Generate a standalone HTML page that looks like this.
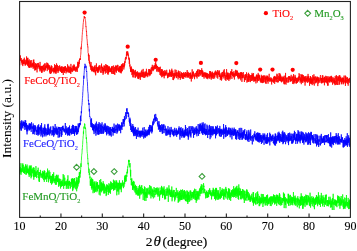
<!DOCTYPE html>
<html><head><meta charset="utf-8"><style>
html,body{margin:0;padding:0;background:#fff;width:357px;height:251px;overflow:hidden}
svg{display:block}
text{font-family:"Liberation Serif","Times New Roman",serif}
</style></head><body>
<svg width="357" height="251" viewBox="0 0 357 251">
<rect width="357" height="251" fill="#fff"/>
<defs><filter id="sf" x="-2%" y="-5%" width="104%" height="110%"><feGaussianBlur stdDeviation="0.25"/></filter></defs>
<g fill="none" stroke-width="0.75" stroke-linejoin="round" filter="url(#sf)">
<polyline stroke="#00ff00" points="19.80,169.2 19.93,173.7 20.05,173.3 20.18,167.5 20.30,168.2 20.43,167.5 20.55,171.3 20.68,169.2 20.80,171.9 20.93,163.2 21.05,174.8 21.18,169.2 21.30,171.8 21.43,169.1 21.55,168.3 21.68,171.2 21.80,172.4 21.93,168.9 22.05,169.1 22.18,172.0 22.30,166.7 22.43,164.6 22.55,171.1 22.68,167.5 22.80,163.3 22.93,167.0 23.05,168.2 23.18,165.8 23.30,164.8 23.43,170.0 23.55,173.0 23.68,169.1 23.80,167.4 23.93,171.3 24.05,172.4 24.18,169.0 24.30,171.9 24.43,173.6 24.55,169.4 24.68,167.3 24.80,171.3 24.93,171.0 25.05,173.9 25.18,165.8 25.30,167.9 25.43,167.4 25.55,164.3 25.68,170.7 25.80,172.1 25.93,167.8 26.05,175.0 26.18,173.1 26.30,172.5 26.43,171.7 26.55,173.7 26.68,165.9 26.80,172.5 26.93,172.5 27.05,164.5 27.18,171.7 27.30,169.7 27.43,173.2 27.55,169.1 27.68,170.5 27.80,171.8 27.93,167.7 28.05,172.7 28.18,170.3 28.30,172.4 28.43,168.9 28.55,174.4 28.68,172.8 28.80,170.2 28.93,172.9 29.05,175.1 29.18,176.9 29.30,165.5 29.43,173.9 29.55,172.5 29.68,170.6 29.80,167.5 29.93,175.2 30.05,166.7 30.18,173.0 30.30,175.5 30.43,165.7 30.55,170.2 30.68,166.8 30.80,172.1 30.93,176.5 31.05,178.3 31.18,165.4 31.30,169.5 31.43,173.9 31.55,177.0 31.68,173.1 31.80,169.2 31.93,172.8 32.05,171.7 32.17,171.2 32.30,169.4 32.42,173.3 32.55,173.0 32.67,171.7 32.80,171.3 32.92,167.8 33.05,170.5 33.17,176.3 33.30,171.6 33.42,167.4 33.55,176.9 33.67,174.2 33.80,179.7 33.92,172.8 34.05,171.0 34.17,167.7 34.30,177.2 34.42,170.0 34.55,170.6 34.67,174.9 34.80,170.1 34.92,172.0 35.05,171.8 35.17,173.7 35.30,176.8 35.42,173.2 35.55,176.3 35.67,171.8 35.80,174.4 35.92,166.1 36.05,168.5 36.17,176.1 36.30,171.5 36.42,175.5 36.55,175.4 36.67,178.1 36.80,176.4 36.92,177.2 37.05,173.4 37.17,171.5 37.30,171.4 37.42,172.3 37.55,170.1 37.67,172.2 37.80,173.8 37.92,175.0 38.05,173.0 38.17,167.7 38.30,174.0 38.42,175.1 38.55,178.1 38.67,176.4 38.80,172.3 38.92,172.1 39.05,181.4 39.17,177.2 39.30,180.9 39.42,182.0 39.55,172.0 39.67,176.1 39.80,176.4 39.92,176.8 40.05,176.8 40.17,175.7 40.30,175.6 40.42,169.9 40.55,174.5 40.67,172.6 40.80,175.5 40.92,173.6 41.05,177.3 41.17,178.0 41.30,176.3 41.42,176.3 41.55,175.6 41.67,173.8 41.80,174.8 41.92,173.7 42.05,176.7 42.17,175.4 42.30,177.4 42.42,170.9 42.55,178.5 42.67,172.9 42.80,173.0 42.92,174.9 43.05,173.7 43.17,176.6 43.30,173.7 43.42,172.0 43.55,172.8 43.67,180.1 43.80,175.9 43.92,171.8 44.05,175.8 44.17,170.5 44.30,181.9 44.42,170.7 44.55,177.5 44.67,177.7 44.80,171.0 44.92,177.0 45.05,179.3 45.17,177.6 45.30,176.9 45.42,179.3 45.55,176.6 45.67,177.2 45.80,175.7 45.92,178.3 46.05,173.0 46.17,178.9 46.30,174.5 46.42,172.5 46.55,177.5 46.67,182.0 46.80,179.6 46.92,174.6 47.05,178.7 47.17,174.8 47.30,176.0 47.42,176.7 47.55,168.6 47.67,177.1 47.80,173.0 47.92,174.2 48.05,171.5 48.17,171.4 48.30,173.4 48.42,179.4 48.55,182.3 48.67,176.6 48.80,180.4 48.92,175.8 49.05,170.3 49.17,177.3 49.30,178.3 49.42,175.4 49.55,177.9 49.67,178.8 49.80,174.0 49.92,171.9 50.05,176.2 50.17,176.3 50.30,175.9 50.42,180.5 50.55,183.1 50.67,175.9 50.80,179.7 50.92,180.6 51.05,179.9 51.17,181.1 51.30,176.3 51.42,180.2 51.55,184.6 51.67,180.5 51.80,175.7 51.92,180.0 52.05,182.2 52.17,179.3 52.30,176.2 52.42,183.4 52.55,174.0 52.67,180.0 52.80,178.3 52.92,174.3 53.05,182.6 53.17,179.7 53.30,174.6 53.42,180.7 53.55,177.2 53.67,172.3 53.80,176.5 53.92,179.8 54.05,181.1 54.17,179.6 54.30,179.2 54.42,180.7 54.55,178.5 54.67,183.2 54.80,179.8 54.92,180.4 55.05,181.3 55.17,175.9 55.30,177.2 55.42,184.8 55.55,180.8 55.67,178.8 55.80,181.0 55.92,178.2 56.05,180.9 56.17,177.7 56.30,181.0 56.42,174.8 56.55,184.7 56.67,178.5 56.80,174.9 56.92,179.6 57.05,179.2 57.17,181.0 57.30,176.7 57.42,182.0 57.55,176.3 57.67,181.9 57.80,179.7 57.92,181.5 58.05,174.8 58.17,177.1 58.30,182.6 58.42,181.0 58.55,186.7 58.67,178.8 58.80,181.9 58.92,178.8 59.05,178.3 59.17,181.4 59.30,181.4 59.42,184.5 59.55,182.1 59.67,179.2 59.80,182.5 59.92,186.2 60.05,181.4 60.17,178.9 60.30,184.0 60.42,181.4 60.55,188.5 60.67,185.2 60.80,185.0 60.92,182.7 61.05,181.9 61.17,183.3 61.30,186.5 61.42,184.0 61.55,181.0 61.67,186.5 61.80,182.9 61.92,182.0 62.05,179.6 62.17,180.4 62.30,180.2 62.42,185.8 62.55,184.3 62.67,181.7 62.80,185.9 62.92,183.9 63.05,183.7 63.17,174.1 63.30,181.7 63.42,184.3 63.55,188.0 63.67,188.8 63.80,187.4 63.92,178.7 64.05,175.2 64.17,184.6 64.30,182.8 64.42,186.0 64.55,182.3 64.67,183.5 64.80,177.7 64.92,184.3 65.05,181.3 65.17,184.0 65.30,184.4 65.42,182.5 65.55,184.0 65.67,182.9 65.80,185.5 65.92,184.7 66.05,181.1 66.17,181.0 66.30,188.9 66.42,182.7 66.55,186.4 66.67,184.4 66.80,181.2 66.92,180.6 67.05,183.6 67.17,184.1 67.30,185.3 67.42,179.0 67.55,181.2 67.67,183.0 67.80,188.7 67.92,175.3 68.05,184.8 68.17,181.5 68.30,184.8 68.42,181.7 68.55,184.7 68.67,188.7 68.80,184.7 68.92,185.0 69.05,184.8 69.17,181.0 69.30,185.4 69.42,182.9 69.55,180.8 69.67,183.5 69.80,182.9 69.92,186.2 70.05,183.5 70.17,181.9 70.30,188.6 70.42,187.0 70.55,188.0 70.67,185.8 70.80,183.3 70.92,182.3 71.05,182.8 71.17,186.9 71.30,184.1 71.42,178.7 71.55,183.6 71.67,179.0 71.80,184.3 71.92,179.7 72.05,179.5 72.17,184.2 72.30,183.5 72.42,178.2 72.55,186.3 72.67,191.1 72.80,178.8 72.92,189.9 73.05,181.5 73.17,182.1 73.30,183.2 73.42,178.9 73.55,188.2 73.67,185.5 73.80,181.3 73.92,182.9 74.05,178.7 74.17,182.6 74.30,186.9 74.42,178.0 74.55,182.3 74.67,184.3 74.80,187.3 74.92,188.3 75.05,182.2 75.17,181.3 75.30,185.3 75.42,182.5 75.55,182.7 75.67,187.3 75.80,189.3 75.92,184.5 76.05,183.0 76.17,185.5 76.30,177.3 76.42,183.5 76.55,180.0 76.67,191.3 76.80,185.7 76.92,183.8 77.05,182.6 77.17,185.5 77.30,188.4 77.42,180.5 77.55,185.0 77.67,185.0 77.80,177.5 77.92,185.3 78.05,186.4 78.17,182.6 78.30,181.4 78.42,183.8 78.55,176.2 78.67,181.0 78.80,183.5 78.92,176.1 79.05,182.4 79.17,177.7 79.30,172.2 79.42,177.5 79.55,174.3 79.67,177.3 79.80,172.4 79.92,177.7 80.05,172.0 80.17,173.9 80.30,170.5 80.42,170.2 80.55,172.6 80.67,169.1 80.80,166.5 80.92,163.4 81.05,167.0 81.17,164.6 81.30,161.1 81.42,160.6 81.55,156.9 81.67,155.4 81.80,154.1 81.92,154.0 82.05,152.1 82.17,149.0 82.30,149.2 82.42,147.5 82.55,144.9 82.67,144.3 82.80,140.7 82.92,139.3 83.05,138.4 83.17,136.1 83.30,135.7 83.42,131.5 83.55,133.8 83.67,129.5 83.80,129.2 83.92,126.6 84.05,128.4 84.17,128.6 84.30,127.7 84.42,127.0 84.55,123.5 84.67,124.4 84.80,124.9 84.92,124.5 85.05,127.7 85.17,127.0 85.30,127.4 85.42,129.0 85.55,128.0 85.67,129.2 85.80,130.4 85.92,133.6 86.05,134.9 86.17,136.7 86.30,139.0 86.42,137.4 86.55,140.1 86.67,142.9 86.80,142.6 86.92,145.5 87.05,149.4 87.17,151.4 87.30,153.2 87.42,153.5 87.55,155.0 87.67,158.5 87.80,158.1 87.92,160.9 88.05,164.3 88.17,162.8 88.30,163.8 88.42,166.4 88.55,169.1 88.67,170.2 88.80,170.7 88.92,172.9 89.05,168.7 89.17,171.5 89.30,175.2 89.42,173.2 89.55,172.9 89.67,174.0 89.80,175.5 89.92,178.3 90.05,176.5 90.17,180.7 90.30,185.7 90.42,180.7 90.55,185.5 90.67,182.9 90.80,178.9 90.92,181.9 91.05,180.0 91.17,185.8 91.30,179.9 91.42,188.1 91.55,186.0 91.67,177.7 91.80,187.0 91.92,189.7 92.05,182.2 92.17,188.2 92.30,179.1 92.42,186.0 92.55,179.8 92.67,187.0 92.80,179.5 92.92,186.8 93.05,193.2 93.17,183.7 93.30,188.5 93.42,186.2 93.55,184.8 93.67,188.0 93.80,191.4 93.92,181.9 94.05,187.9 94.17,187.2 94.30,181.4 94.42,191.6 94.55,192.7 94.67,183.0 94.80,192.1 94.92,186.5 95.05,185.8 95.17,191.4 95.30,187.2 95.42,187.5 95.55,191.5 95.67,190.8 95.80,189.5 95.92,181.8 96.05,181.3 96.17,190.4 96.30,183.5 96.42,187.1 96.55,183.0 96.67,186.0 96.80,182.4 96.92,192.2 97.05,183.3 97.17,186.3 97.30,186.1 97.42,190.9 97.55,182.0 97.67,186.7 97.80,186.2 97.92,188.7 98.05,188.5 98.17,185.4 98.30,187.7 98.42,185.7 98.55,188.6 98.67,186.6 98.80,184.8 98.92,186.9 99.05,188.3 99.17,194.7 99.30,185.4 99.42,188.1 99.55,192.1 99.67,180.1 99.80,181.3 99.92,183.2 100.05,186.8 100.17,195.5 100.30,188.6 100.42,191.3 100.55,186.5 100.67,179.0 100.80,179.5 100.92,190.8 101.05,188.0 101.17,183.0 101.30,191.1 101.42,182.2 101.55,191.2 101.67,192.3 101.80,184.8 101.92,183.7 102.05,190.3 102.17,183.8 102.30,190.4 102.42,183.5 102.55,190.3 102.67,187.9 102.80,186.1 102.92,184.5 103.05,188.4 103.17,181.2 103.30,186.7 103.42,186.3 103.55,189.9 103.67,183.4 103.80,193.5 103.92,186.6 104.05,183.9 104.17,192.4 104.30,193.4 104.42,187.1 104.55,184.7 104.67,187.8 104.80,185.5 104.92,186.8 105.05,193.1 105.17,189.2 105.30,188.3 105.42,189.0 105.55,187.7 105.67,190.7 105.80,190.9 105.92,186.6 106.05,188.3 106.17,196.1 106.30,189.4 106.42,187.3 106.55,194.9 106.67,188.0 106.80,184.2 106.92,190.3 107.05,184.9 107.17,186.3 107.30,189.1 107.42,187.6 107.55,185.4 107.67,186.1 107.80,186.0 107.92,192.0 108.05,185.6 108.17,186.1 108.30,194.9 108.42,186.1 108.55,193.0 108.67,192.4 108.80,187.5 108.92,183.2 109.05,189.5 109.17,190.2 109.30,191.2 109.42,188.1 109.55,191.9 109.67,192.5 109.80,184.2 109.92,192.5 110.05,188.3 110.17,185.7 110.30,186.5 110.42,193.8 110.55,190.7 110.67,181.4 110.80,187.6 110.92,186.8 111.05,186.6 111.17,185.4 111.30,182.2 111.42,189.7 111.55,183.7 111.67,185.5 111.80,184.6 111.92,184.1 112.05,188.8 112.17,187.5 112.30,184.0 112.42,183.0 112.55,184.5 112.67,189.1 112.80,186.3 112.92,186.5 113.05,184.7 113.17,184.8 113.30,186.3 113.42,179.7 113.55,190.7 113.67,183.0 113.80,183.7 113.92,189.7 114.05,186.2 114.17,185.6 114.30,183.6 114.42,180.6 114.55,186.2 114.67,189.5 114.80,182.8 114.92,190.1 115.05,182.2 115.17,183.6 115.30,187.6 115.42,186.1 115.55,188.4 115.67,183.9 115.80,183.0 115.92,180.4 116.05,182.6 116.17,183.2 116.30,182.1 116.42,187.9 116.55,184.8 116.67,180.5 116.80,195.3 116.92,184.4 117.05,183.1 117.17,191.4 117.30,191.2 117.42,183.6 117.55,182.6 117.67,184.2 117.80,191.2 117.92,186.5 118.05,184.9 118.17,187.4 118.30,191.5 118.42,182.9 118.55,186.2 118.67,182.9 118.80,194.6 118.92,193.4 119.05,190.5 119.17,186.9 119.30,189.4 119.42,180.3 119.55,188.0 119.67,182.6 119.80,182.6 119.92,184.5 120.05,185.6 120.17,188.5 120.30,188.8 120.42,187.2 120.55,183.2 120.67,188.3 120.80,185.6 120.92,189.6 121.05,182.8 121.17,184.1 121.30,192.2 121.42,186.8 121.55,184.5 121.67,187.8 121.80,186.4 121.92,186.1 122.05,182.9 122.17,184.6 122.30,184.8 122.42,182.0 122.55,180.4 122.67,184.1 122.80,186.4 122.92,185.3 123.05,184.6 123.17,184.5 123.30,183.6 123.42,185.7 123.55,188.2 123.67,182.5 123.80,182.9 123.92,185.0 124.05,186.7 124.17,182.6 124.30,182.5 124.42,181.6 124.55,177.7 124.67,184.2 124.80,180.1 124.92,175.8 125.05,180.0 125.17,175.4 125.30,177.2 125.42,179.7 125.55,176.9 125.67,182.0 125.80,174.8 125.92,179.1 126.05,179.4 126.17,181.2 126.30,179.2 126.42,176.9 126.55,175.9 126.67,174.8 126.80,176.9 126.92,171.9 127.05,173.7 127.17,171.4 127.30,171.2 127.42,169.2 127.55,173.0 127.67,166.6 127.80,167.4 127.92,166.5 128.05,166.2 128.18,165.0 128.30,164.3 128.43,164.5 128.55,160.1 128.68,162.0 128.80,159.9 128.93,162.0 129.05,159.9 129.18,160.4 129.30,162.1 129.43,164.9 129.55,164.2 129.68,164.5 129.80,167.3 129.93,164.2 130.05,163.1 130.18,167.2 130.30,168.7 130.43,173.0 130.55,176.4 130.68,169.9 130.80,180.0 130.93,179.2 131.05,178.6 131.18,178.6 131.30,185.2 131.43,180.0 131.55,179.4 131.68,182.0 131.80,178.4 131.93,184.5 132.05,183.5 132.18,185.4 132.30,186.0 132.43,182.2 132.55,190.0 132.68,183.1 132.80,189.4 132.93,181.8 133.05,188.4 133.18,184.8 133.30,187.8 133.43,185.7 133.55,180.9 133.68,184.5 133.80,188.6 133.93,190.5 134.05,183.7 134.18,181.7 134.30,185.9 134.43,188.2 134.55,186.9 134.68,186.4 134.80,192.0 134.93,192.4 135.05,191.8 135.18,186.2 135.30,189.7 135.43,188.9 135.55,184.8 135.68,192.7 135.80,190.1 135.93,188.2 136.05,194.7 136.18,192.6 136.30,193.0 136.43,194.2 136.55,192.6 136.68,186.0 136.80,189.0 136.93,193.8 137.05,187.8 137.18,190.6 137.30,191.9 137.43,195.5 137.55,195.1 137.68,193.7 137.80,190.1 137.93,193.9 138.05,192.6 138.18,190.3 138.30,195.5 138.43,192.7 138.55,188.5 138.68,195.4 138.80,190.2 138.93,193.2 139.05,186.0 139.18,191.2 139.30,188.1 139.43,188.0 139.55,184.9 139.68,198.7 139.80,190.9 139.93,192.3 140.05,195.3 140.18,191.1 140.30,193.3 140.43,187.0 140.55,192.3 140.68,190.3 140.80,193.4 140.93,192.4 141.05,187.1 141.18,185.6 141.30,188.4 141.43,194.4 141.55,193.4 141.68,193.4 141.80,185.2 141.93,190.0 142.05,191.0 142.18,190.1 142.30,193.4 142.43,191.6 142.55,188.2 142.68,189.3 142.80,192.8 142.93,192.6 143.05,192.2 143.18,200.1 143.30,191.6 143.43,192.9 143.55,189.2 143.68,191.4 143.80,194.4 143.93,194.6 144.05,192.2 144.18,194.1 144.30,193.0 144.43,186.4 144.55,200.7 144.68,195.7 144.80,192.7 144.93,187.0 145.05,188.6 145.18,197.6 145.30,191.8 145.43,195.9 145.55,193.4 145.68,195.4 145.80,192.4 145.93,201.0 146.05,189.3 146.18,188.2 146.30,193.7 146.43,197.6 146.55,192.6 146.68,196.3 146.80,190.9 146.93,188.7 147.05,197.4 147.18,198.0 147.30,197.8 147.43,191.1 147.55,188.7 147.68,188.6 147.80,191.8 147.93,194.5 148.05,194.3 148.18,187.6 148.30,193.1 148.43,192.5 148.55,192.8 148.68,192.3 148.80,191.7 148.93,194.4 149.05,192.8 149.18,193.1 149.30,190.0 149.43,193.7 149.55,191.9 149.68,185.1 149.80,193.9 149.93,191.3 150.05,195.4 150.18,191.7 150.30,191.9 150.43,192.9 150.55,192.1 150.68,190.6 150.80,186.0 150.93,198.4 151.05,186.7 151.18,190.9 151.30,194.3 151.43,193.3 151.55,193.9 151.68,194.6 151.80,196.3 151.93,193.0 152.05,188.5 152.18,192.7 152.30,190.7 152.43,190.0 152.55,192.8 152.68,196.8 152.80,189.4 152.93,189.4 153.05,194.2 153.18,193.6 153.30,198.4 153.43,195.2 153.55,192.5 153.68,190.6 153.80,192.4 153.93,191.0 154.05,187.0 154.18,191.6 154.30,191.0 154.43,190.8 154.55,190.1 154.68,197.3 154.80,193.9 154.93,194.7 155.05,189.4 155.18,188.0 155.30,190.6 155.43,192.4 155.55,190.4 155.68,190.9 155.80,194.9 155.93,192.6 156.05,188.3 156.18,190.2 156.30,189.4 156.43,192.3 156.55,187.7 156.68,191.1 156.80,194.1 156.93,191.9 157.05,188.7 157.18,189.7 157.30,192.2 157.43,193.5 157.55,194.7 157.68,191.4 157.80,187.4 157.93,196.7 158.05,192.9 158.18,193.3 158.30,193.0 158.43,188.4 158.55,190.9 158.68,192.9 158.80,195.5 158.93,192.3 159.05,191.2 159.18,193.3 159.30,196.5 159.43,194.5 159.55,200.6 159.68,197.0 159.80,196.8 159.93,195.4 160.05,187.5 160.18,195.1 160.30,194.3 160.43,190.5 160.55,194.3 160.68,193.7 160.80,190.7 160.93,191.9 161.05,191.5 161.18,193.2 161.30,190.9 161.43,194.3 161.55,185.9 161.68,191.5 161.80,186.7 161.93,190.8 162.05,194.3 162.18,192.6 162.30,192.2 162.43,192.8 162.55,197.9 162.68,188.8 162.80,195.6 162.93,187.5 163.05,191.1 163.18,193.3 163.30,189.8 163.43,193.4 163.55,195.2 163.68,188.7 163.80,192.5 163.93,191.5 164.05,186.3 164.18,192.2 164.30,190.2 164.43,197.5 164.55,190.0 164.68,198.7 164.80,191.2 164.93,199.6 165.05,194.9 165.18,194.6 165.30,195.8 165.43,196.2 165.55,197.9 165.68,199.0 165.80,192.0 165.93,188.9 166.05,191.9 166.18,195.8 166.30,194.5 166.43,193.7 166.55,192.1 166.68,191.1 166.80,192.4 166.93,194.7 167.05,187.4 167.18,195.9 167.30,188.5 167.43,192.9 167.55,191.3 167.68,192.2 167.80,190.0 167.93,189.6 168.05,192.8 168.18,189.9 168.30,201.9 168.43,192.2 168.55,191.4 168.68,191.8 168.80,190.0 168.93,185.3 169.05,192.8 169.18,194.8 169.30,188.6 169.43,193.8 169.55,189.7 169.68,193.7 169.80,195.1 169.93,195.5 170.05,195.4 170.18,191.5 170.30,196.9 170.43,192.4 170.55,195.2 170.68,196.4 170.80,193.0 170.93,189.7 171.05,196.1 171.18,190.3 171.30,191.1 171.43,190.4 171.55,197.0 171.68,193.6 171.80,186.5 171.93,196.7 172.05,201.3 172.18,200.4 172.30,192.4 172.43,194.6 172.55,196.1 172.68,197.4 172.80,194.5 172.93,190.7 173.05,197.0 173.18,196.5 173.30,189.9 173.43,193.2 173.55,195.4 173.68,194.5 173.80,196.3 173.93,197.3 174.05,196.4 174.18,194.2 174.30,190.0 174.43,196.7 174.55,199.4 174.68,201.4 174.80,194.6 174.93,194.6 175.05,199.7 175.18,199.7 175.30,196.0 175.43,197.3 175.55,192.3 175.68,196.9 175.80,192.1 175.93,194.5 176.05,194.6 176.18,193.4 176.30,187.9 176.43,192.2 176.55,196.2 176.68,194.9 176.80,193.8 176.93,196.6 177.05,197.5 177.18,198.1 177.30,192.5 177.43,195.3 177.55,194.2 177.68,192.3 177.80,190.3 177.93,195.0 178.05,192.4 178.18,202.8 178.30,195.1 178.43,194.7 178.55,194.2 178.68,201.9 178.80,192.4 178.93,195.1 179.05,193.0 179.18,195.2 179.30,195.6 179.43,199.4 179.55,190.9 179.68,195.7 179.80,201.3 179.93,194.1 180.05,195.2 180.18,192.9 180.30,195.5 180.43,199.9 180.55,194.4 180.68,189.7 180.80,196.9 180.93,196.3 181.05,199.5 181.18,199.2 181.30,195.2 181.43,197.5 181.55,190.1 181.68,200.0 181.80,196.9 181.93,199.9 182.05,199.9 182.18,195.3 182.30,195.8 182.43,193.4 182.55,189.4 182.68,196.0 182.80,197.0 182.93,192.8 183.05,198.9 183.18,196.9 183.30,198.1 183.43,194.0 183.55,190.6 183.68,199.3 183.80,198.7 183.93,196.3 184.05,195.3 184.18,195.8 184.30,196.3 184.43,195.1 184.55,190.0 184.68,199.5 184.80,191.8 184.93,195.8 185.05,195.9 185.18,197.8 185.30,191.4 185.43,201.0 185.55,199.1 185.68,199.4 185.80,201.1 185.93,194.1 186.05,197.9 186.18,201.2 186.30,200.7 186.43,194.9 186.55,196.4 186.68,197.6 186.80,190.5 186.93,194.3 187.05,194.4 187.18,201.9 187.30,194.3 187.43,201.8 187.55,196.5 187.68,190.8 187.80,204.0 187.93,193.1 188.05,198.5 188.18,202.2 188.30,194.5 188.43,192.2 188.55,199.8 188.68,196.5 188.80,192.1 188.93,192.6 189.05,194.9 189.18,199.5 189.30,195.2 189.43,198.4 189.55,201.7 189.68,200.4 189.80,201.0 189.93,200.2 190.05,190.6 190.18,200.2 190.30,197.1 190.43,195.5 190.55,192.2 190.68,190.5 190.80,192.1 190.93,195.8 191.05,191.8 191.18,193.0 191.30,193.7 191.43,198.0 191.55,194.7 191.68,195.2 191.80,200.2 191.93,194.6 192.05,197.7 192.18,192.0 192.30,196.7 192.43,196.0 192.55,196.1 192.68,193.9 192.80,192.0 192.93,194.5 193.05,193.9 193.18,198.9 193.30,198.5 193.43,191.3 193.55,197.5 193.68,193.7 193.80,196.9 193.93,193.6 194.05,190.2 194.18,198.7 194.30,196.7 194.43,191.0 194.55,188.7 194.68,193.3 194.80,191.1 194.93,193.8 195.05,197.2 195.18,200.0 195.30,193.8 195.43,199.7 195.55,198.9 195.68,193.5 195.80,189.2 195.93,197.8 196.05,196.9 196.18,202.8 196.30,199.7 196.43,197.4 196.55,200.5 196.68,191.1 196.80,195.3 196.93,193.7 197.05,200.5 197.18,196.5 197.30,199.1 197.43,191.4 197.55,197.0 197.68,192.7 197.80,195.1 197.93,196.3 198.05,194.8 198.18,190.8 198.30,198.6 198.43,195.2 198.55,193.7 198.68,196.0 198.80,191.7 198.93,199.7 199.05,194.0 199.18,194.3 199.30,194.1 199.43,189.7 199.55,188.7 199.68,193.0 199.80,193.2 199.93,196.2 200.05,193.1 200.18,187.9 200.30,192.8 200.43,193.5 200.55,193.8 200.68,191.4 200.80,186.3 200.93,193.4 201.05,187.3 201.18,191.1 201.30,184.3 201.43,191.2 201.55,186.3 201.68,191.8 201.80,193.6 201.93,191.7 202.05,184.6 202.18,185.2 202.30,185.4 202.43,189.9 202.55,188.9 202.68,188.4 202.80,188.9 202.93,189.8 203.05,190.1 203.18,193.3 203.30,188.3 203.43,189.2 203.55,183.2 203.68,185.0 203.80,187.1 203.93,185.8 204.05,190.4 204.18,193.1 204.30,188.8 204.43,188.9 204.55,189.1 204.68,191.3 204.80,189.4 204.93,192.8 205.05,192.6 205.18,193.0 205.30,194.6 205.43,192.4 205.55,192.9 205.68,198.4 205.80,192.7 205.93,195.6 206.05,193.3 206.18,191.7 206.30,191.8 206.43,190.7 206.55,193.6 206.68,191.6 206.80,192.3 206.93,197.9 207.05,193.4 207.18,197.7 207.30,194.8 207.43,196.9 207.55,191.9 207.68,194.5 207.80,196.9 207.93,197.5 208.05,194.9 208.18,197.0 208.30,190.2 208.43,191.2 208.55,195.6 208.68,196.9 208.80,192.7 208.93,193.5 209.05,192.9 209.18,193.5 209.30,190.0 209.43,189.3 209.55,193.8 209.68,188.2 209.80,190.8 209.93,191.9 210.05,190.5 210.18,194.9 210.30,192.6 210.43,193.8 210.55,190.6 210.68,191.5 210.80,195.8 210.93,195.3 211.05,192.5 211.18,195.3 211.30,194.7 211.43,194.6 211.55,199.4 211.68,192.6 211.80,195.4 211.93,195.4 212.05,193.2 212.18,190.0 212.30,196.3 212.43,194.9 212.55,194.1 212.68,194.0 212.80,194.0 212.93,190.9 213.05,194.9 213.18,187.8 213.30,193.8 213.43,188.8 213.55,192.7 213.68,196.3 213.80,193.0 213.93,192.2 214.05,195.6 214.18,192.9 214.30,192.5 214.43,192.5 214.55,199.0 214.68,196.1 214.80,195.5 214.93,189.8 215.05,195.9 215.18,189.4 215.30,195.4 215.43,190.0 215.55,200.4 215.68,188.1 215.80,198.0 215.93,196.5 216.05,187.8 216.18,193.0 216.30,198.7 216.43,197.7 216.55,188.2 216.68,192.0 216.80,189.8 216.93,190.3 217.05,191.6 217.18,200.0 217.30,194.2 217.43,193.0 217.55,192.6 217.68,196.0 217.80,196.1 217.93,190.7 218.05,198.8 218.18,190.1 218.30,192.8 218.43,195.3 218.55,199.6 218.68,192.6 218.80,194.7 218.93,198.2 219.05,195.9 219.18,197.6 219.30,197.3 219.43,194.7 219.55,195.9 219.68,196.9 219.80,193.7 219.93,199.2 220.05,187.0 220.18,190.6 220.30,198.7 220.43,195.2 220.55,191.6 220.68,195.1 220.80,197.5 220.93,191.9 221.05,196.4 221.18,193.4 221.30,193.4 221.43,193.5 221.55,197.6 221.68,190.0 221.80,192.5 221.93,196.0 222.05,189.6 222.18,188.4 222.30,195.7 222.43,193.8 222.55,193.3 222.68,194.3 222.80,190.5 222.93,190.4 223.05,192.3 223.18,188.9 223.30,192.4 223.43,199.0 223.55,193.8 223.68,195.8 223.80,192.1 223.93,199.9 224.05,194.3 224.18,189.5 224.30,196.4 224.43,192.5 224.55,195.8 224.68,194.3 224.80,194.7 224.93,194.2 225.05,190.7 225.18,188.7 225.30,197.1 225.43,193.3 225.55,194.8 225.68,192.2 225.80,186.9 225.93,189.4 226.05,198.5 226.18,191.1 226.30,192.5 226.43,188.8 226.55,192.0 226.68,192.5 226.80,193.0 226.93,193.5 227.05,191.6 227.18,191.8 227.30,193.7 227.43,194.9 227.55,193.3 227.68,199.7 227.80,194.5 227.93,194.3 228.05,191.5 228.18,197.3 228.30,190.3 228.43,188.3 228.55,190.4 228.68,195.9 228.80,189.9 228.93,198.2 229.05,193.7 229.18,188.6 229.30,193.0 229.43,199.8 229.55,190.8 229.68,189.3 229.80,195.5 229.93,198.2 230.05,197.2 230.18,192.6 230.30,194.3 230.43,194.8 230.55,197.6 230.68,200.9 230.80,193.2 230.93,198.0 231.05,192.4 231.18,195.5 231.30,190.3 231.43,190.9 231.55,194.9 231.68,190.4 231.80,196.4 231.93,191.5 232.05,193.6 232.18,193.1 232.30,192.2 232.43,193.7 232.55,196.9 232.68,189.2 232.80,194.2 232.93,192.6 233.05,190.1 233.18,194.1 233.30,190.1 233.43,192.8 233.55,197.3 233.68,186.2 233.80,193.9 233.93,194.5 234.05,189.7 234.18,194.8 234.30,194.1 234.43,191.7 234.55,197.0 234.68,188.4 234.80,195.0 234.93,192.0 235.05,189.2 235.18,192.2 235.30,191.6 235.43,195.5 235.55,187.6 235.68,192.0 235.80,191.1 235.93,198.0 236.05,188.8 236.18,196.2 236.30,186.6 236.43,193.7 236.55,192.1 236.68,193.8 236.80,190.1 236.93,185.8 237.05,187.2 237.18,196.8 237.30,193.1 237.43,189.4 237.55,195.4 237.68,189.7 237.80,189.7 237.93,188.1 238.05,196.2 238.18,199.0 238.30,189.1 238.43,193.4 238.55,195.8 238.68,199.7 238.80,184.4 238.93,193.1 239.05,194.9 239.18,187.7 239.30,194.2 239.43,193.6 239.55,195.4 239.68,191.0 239.80,194.5 239.93,191.1 240.05,195.3 240.18,193.8 240.30,192.0 240.43,188.6 240.55,199.1 240.68,197.3 240.80,196.6 240.93,191.4 241.05,192.5 241.18,199.4 241.30,196.4 241.43,191.0 241.55,194.1 241.68,194.5 241.80,193.4 241.93,190.9 242.05,198.5 242.18,196.2 242.30,193.6 242.43,189.0 242.55,192.4 242.68,194.4 242.80,197.4 242.93,193.3 243.05,198.3 243.18,195.1 243.30,192.1 243.43,190.7 243.55,189.7 243.68,194.3 243.80,196.0 243.93,199.6 244.05,194.9 244.18,191.0 244.30,203.0 244.43,196.1 244.55,194.2 244.68,194.3 244.80,190.6 244.93,197.4 245.05,196.6 245.18,200.7 245.30,199.1 245.43,198.4 245.55,199.8 245.68,194.6 245.80,194.1 245.93,195.5 246.05,191.4 246.18,195.2 246.30,194.6 246.43,198.1 246.55,195.8 246.68,189.4 246.80,196.1 246.93,200.8 247.05,189.8 247.18,193.5 247.30,196.2 247.43,191.7 247.55,194.4 247.68,196.5 247.80,191.8 247.93,197.4 248.05,197.8 248.18,192.1 248.30,196.6 248.43,200.2 248.55,196.0 248.68,198.1 248.80,198.9 248.93,195.9 249.05,200.1 249.18,198.1 249.30,193.5 249.43,198.7 249.55,199.9 249.68,199.8 249.80,194.9 249.93,198.7 250.05,201.8 250.18,198.0 250.30,201.3 250.43,201.7 250.55,197.2 250.68,199.6 250.80,196.5 250.93,201.1 251.05,197.2 251.18,195.7 251.30,197.5 251.43,197.4 251.55,199.0 251.68,199.3 251.80,193.8 251.93,195.6 252.05,199.1 252.18,199.6 252.30,198.3 252.43,201.8 252.55,197.8 252.68,200.6 252.80,202.7 252.93,199.5 253.05,192.3 253.18,198.7 253.30,198.5 253.43,205.7 253.55,192.2 253.68,203.8 253.80,198.0 253.93,201.8 254.05,197.7 254.18,199.3 254.30,202.6 254.43,199.1 254.55,202.4 254.68,198.6 254.80,197.6 254.93,198.2 255.05,197.3 255.18,198.6 255.30,203.7 255.43,195.1 255.55,193.4 255.68,199.0 255.80,204.8 255.93,202.7 256.05,203.6 256.18,203.4 256.30,196.7 256.43,199.6 256.55,197.1 256.68,201.2 256.80,193.9 256.93,192.2 257.05,194.8 257.18,200.0 257.30,203.2 257.43,204.1 257.55,194.1 257.68,191.4 257.80,199.8 257.93,202.9 258.05,193.8 258.18,197.6 258.30,197.8 258.43,199.5 258.55,198.8 258.68,201.2 258.80,203.0 258.93,199.7 259.05,202.0 259.18,206.2 259.30,196.0 259.43,195.9 259.55,201.2 259.68,205.8 259.80,200.1 259.93,203.3 260.05,198.5 260.18,202.7 260.30,197.5 260.43,201.9 260.55,201.0 260.68,201.0 260.80,204.3 260.93,203.3 261.05,197.6 261.18,202.7 261.30,193.9 261.43,203.1 261.55,201.6 261.68,201.5 261.80,200.0 261.93,202.6 262.05,198.3 262.18,202.1 262.30,198.9 262.43,198.4 262.55,200.3 262.68,199.7 262.80,194.0 262.93,207.0 263.05,200.4 263.18,194.2 263.30,203.6 263.43,199.9 263.55,200.7 263.68,202.4 263.80,197.0 263.93,199.7 264.05,200.8 264.18,203.4 264.30,197.5 264.43,199.1 264.55,201.4 264.68,199.0 264.80,199.2 264.93,201.0 265.05,196.7 265.18,205.5 265.30,197.0 265.43,200.2 265.55,199.0 265.68,197.7 265.80,202.0 265.93,203.6 266.05,205.1 266.18,202.1 266.30,198.6 266.43,203.1 266.55,195.3 266.68,200.4 266.80,202.0 266.93,202.1 267.05,196.3 267.18,195.1 267.30,205.9 267.43,198.5 267.55,194.6 267.68,196.0 267.80,200.3 267.93,204.2 268.05,200.2 268.18,204.3 268.30,201.0 268.43,201.8 268.55,203.6 268.68,199.0 268.80,201.2 268.93,198.9 269.05,198.1 269.18,202.5 269.30,197.5 269.43,200.5 269.55,197.6 269.68,200.0 269.80,198.5 269.93,204.0 270.05,200.5 270.18,200.5 270.30,205.9 270.43,196.4 270.55,200.2 270.68,201.7 270.80,202.4 270.93,201.1 271.05,197.2 271.18,206.1 271.30,201.2 271.43,199.2 271.55,196.3 271.68,201.5 271.80,198.4 271.93,198.6 272.05,200.8 272.18,200.8 272.30,197.3 272.43,204.3 272.55,196.7 272.68,196.3 272.80,201.1 272.93,200.5 273.05,200.3 273.18,198.6 273.30,200.2 273.43,198.1 273.55,194.4 273.68,202.5 273.80,196.6 273.93,199.2 274.05,202.5 274.18,200.1 274.30,195.2 274.43,197.5 274.55,200.3 274.68,204.6 274.80,199.1 274.93,195.1 275.05,203.9 275.18,196.8 275.30,199.3 275.43,203.0 275.55,197.7 275.68,198.4 275.80,201.6 275.93,199.3 276.05,200.9 276.18,196.7 276.30,199.5 276.43,196.2 276.55,194.6 276.68,205.9 276.80,201.5 276.93,203.0 277.05,196.6 277.18,199.8 277.30,199.2 277.43,195.1 277.55,201.8 277.68,197.5 277.80,199.2 277.93,194.8 278.05,203.3 278.18,202.5 278.30,201.2 278.43,196.8 278.55,198.1 278.68,204.1 278.80,199.0 278.93,200.8 279.05,200.4 279.18,196.1 279.30,205.1 279.43,193.1 279.55,200.6 279.68,199.6 279.80,194.4 279.93,201.0 280.05,201.6 280.18,200.1 280.30,197.1 280.43,201.4 280.55,203.7 280.68,200.6 280.80,205.7 280.93,202.8 281.05,202.5 281.18,204.6 281.30,197.6 281.43,198.1 281.55,201.6 281.68,201.6 281.80,205.0 281.93,203.8 282.05,200.5 282.18,200.6 282.30,198.9 282.43,198.6 282.55,198.3 282.68,202.9 282.80,198.3 282.93,198.7 283.05,200.4 283.18,198.1 283.30,199.1 283.43,192.5 283.55,201.2 283.68,198.9 283.80,200.6 283.93,201.2 284.05,193.6 284.18,208.1 284.30,200.5 284.43,200.6 284.55,193.9 284.68,202.2 284.80,201.5 284.93,198.9 285.05,201.0 285.18,204.5 285.30,199.1 285.43,197.2 285.55,204.8 285.68,201.2 285.80,199.7 285.93,208.2 286.05,200.9 286.18,199.8 286.30,201.3 286.43,199.0 286.55,201.1 286.68,200.9 286.80,198.2 286.93,199.5 287.05,201.5 287.18,201.7 287.30,202.4 287.43,203.1 287.55,201.3 287.68,202.2 287.80,199.1 287.93,199.6 288.05,204.0 288.18,193.7 288.30,201.7 288.43,194.1 288.55,205.5 288.68,194.4 288.80,201.6 288.93,205.9 289.05,205.4 289.18,197.3 289.30,195.9 289.43,195.5 289.55,202.8 289.68,199.0 289.80,200.4 289.93,201.2 290.05,201.7 290.18,202.2 290.30,200.8 290.43,194.9 290.55,205.3 290.68,204.5 290.80,198.3 290.93,199.7 291.05,198.6 291.18,199.1 291.30,200.3 291.43,199.4 291.55,196.6 291.68,203.3 291.80,198.4 291.93,205.0 292.05,199.9 292.18,198.0 292.30,201.9 292.43,203.4 292.55,197.3 292.68,199.5 292.80,205.3 292.93,197.1 293.05,197.6 293.18,201.0 293.30,196.3 293.43,192.1 293.55,194.8 293.68,201.8 293.80,202.7 293.93,202.5 294.05,201.9 294.18,196.3 294.30,202.8 294.43,204.5 294.55,198.2 294.68,203.8 294.80,199.3 294.93,201.2 295.05,201.8 295.18,195.6 295.30,205.6 295.43,197.7 295.55,200.3 295.68,199.0 295.80,202.2 295.93,202.1 296.05,200.7 296.18,205.5 296.30,201.6 296.43,199.3 296.55,199.7 296.68,199.7 296.80,197.8 296.93,197.8 297.05,202.8 297.18,204.3 297.30,207.2 297.43,204.7 297.55,198.4 297.68,201.7 297.80,196.2 297.93,203.3 298.05,202.0 298.18,198.7 298.30,200.5 298.43,200.0 298.55,198.7 298.68,205.3 298.80,203.7 298.93,204.5 299.05,201.4 299.18,199.7 299.30,208.4 299.43,199.7 299.55,202.3 299.68,200.5 299.80,202.9 299.93,200.8 300.05,203.0 300.18,196.6 300.30,200.6 300.43,205.6 300.55,197.4 300.68,198.7 300.80,205.6 300.93,202.3 301.05,204.6 301.18,193.3 301.30,201.4 301.43,196.6 301.55,196.2 301.68,202.3 301.80,205.0 301.93,195.8 302.05,197.2 302.18,198.9 302.30,200.5 302.43,196.4 302.55,208.6 302.68,202.9 302.80,199.7 302.93,199.1 303.05,208.8 303.18,208.5 303.30,199.2 303.43,202.1 303.55,205.2 303.68,196.9 303.80,198.9 303.93,205.5 304.05,198.5 304.18,199.4 304.30,196.3 304.43,198.3 304.55,203.2 304.68,198.1 304.80,196.4 304.93,198.7 305.05,206.9 305.18,201.4 305.30,198.9 305.43,201.4 305.55,202.3 305.68,201.2 305.80,194.6 305.93,201.8 306.05,200.1 306.18,203.7 306.30,196.2 306.43,204.4 306.55,199.1 306.68,195.0 306.80,205.3 306.93,199.0 307.05,202.1 307.18,200.2 307.30,204.5 307.43,204.6 307.55,204.6 307.68,203.2 307.80,195.2 307.93,195.0 308.05,201.4 308.18,197.5 308.30,202.4 308.43,201.3 308.55,195.9 308.68,197.2 308.80,196.9 308.93,197.7 309.05,200.0 309.18,203.1 309.30,205.3 309.43,197.4 309.55,198.8 309.68,206.1 309.80,203.8 309.93,201.5 310.05,192.7 310.18,197.3 310.30,201.3 310.43,198.7 310.55,207.6 310.68,201.0 310.80,201.7 310.93,197.0 311.05,197.1 311.18,198.4 311.30,198.6 311.43,199.9 311.55,202.0 311.68,201.5 311.80,204.2 311.93,196.1 312.05,201.4 312.18,201.5 312.30,206.2 312.43,200.0 312.55,201.8 312.68,197.9 312.80,202.2 312.93,202.1 313.05,198.6 313.18,199.2 313.30,200.6 313.43,202.7 313.55,196.8 313.68,203.7 313.80,199.6 313.93,207.2 314.05,205.7 314.18,199.3 314.30,198.6 314.43,209.2 314.55,202.9 314.68,202.7 314.80,199.3 314.93,200.3 315.05,203.5 315.18,202.8 315.30,197.9 315.43,205.0 315.55,201.8 315.68,197.4 315.80,204.1 315.93,200.1 316.05,203.4 316.18,198.8 316.30,201.9 316.43,195.1 316.55,202.0 316.68,195.5 316.80,201.3 316.93,200.5 317.05,203.2 317.18,202.4 317.30,204.8 317.43,197.0 317.55,206.1 317.68,206.2 317.80,196.6 317.93,198.0 318.05,198.7 318.18,200.6 318.30,201.4 318.43,192.3 318.55,202.8 318.68,199.9 318.80,197.3 318.93,204.0 319.05,199.6 319.18,204.7 319.30,202.6 319.43,199.7 319.55,204.8 319.68,203.6 319.80,199.1 319.93,195.3 320.05,199.0 320.18,203.0 320.30,200.1 320.43,206.9 320.55,201.8 320.68,201.6 320.80,202.3 320.93,197.9 321.05,200.5 321.18,198.7 321.30,192.9 321.43,194.9 321.55,203.5 321.68,199.5 321.80,200.6 321.93,196.0 322.05,199.0 322.18,203.7 322.30,201.4 322.43,199.3 322.55,206.3 322.68,200.9 322.80,199.9 322.93,205.0 323.05,195.2 323.18,203.0 323.30,197.3 323.43,198.5 323.55,198.8 323.68,201.6 323.80,201.6 323.93,202.2 324.05,201.9 324.18,206.0 324.30,207.0 324.43,203.7 324.55,203.9 324.68,200.0 324.80,197.5 324.93,203.3 325.05,201.4 325.18,204.3 325.30,195.1 325.43,197.0 325.55,201.5 325.68,204.8 325.80,196.6 325.93,199.5 326.05,194.5 326.18,196.5 326.30,194.8 326.43,201.8 326.55,202.4 326.68,200.4 326.80,205.8 326.93,206.2 327.05,201.5 327.18,200.7 327.30,200.6 327.43,200.0 327.55,206.0 327.68,202.4 327.80,200.4 327.93,200.8 328.05,203.5 328.18,200.2 328.30,202.7 328.43,201.5 328.55,206.3 328.68,205.6 328.80,196.8 328.93,201.1 329.05,204.1 329.18,200.1 329.30,204.5 329.43,202.9 329.55,203.8 329.68,201.5 329.80,202.8 329.93,203.6 330.05,196.7 330.18,198.6 330.30,198.3 330.43,207.6 330.55,202.9 330.68,203.1 330.80,202.4 330.93,200.1 331.05,199.3 331.18,204.8 331.30,200.6 331.43,207.3 331.55,202.6 331.68,202.2 331.80,201.2 331.93,201.7 332.05,202.1 332.18,207.2 332.30,210.0 332.43,198.0 332.55,202.9 332.68,204.4 332.80,198.9 332.93,199.9 333.05,200.5 333.18,193.8 333.30,204.3 333.43,201.9 333.55,201.8 333.68,202.4 333.80,203.0 333.93,210.0 334.05,202.8 334.18,205.0 334.30,200.4 334.43,203.4 334.55,201.1 334.68,201.7 334.80,199.1 334.93,199.4 335.05,203.8 335.18,204.8 335.30,203.8 335.43,200.0 335.55,203.3 335.68,205.5 335.80,202.1 335.93,203.2 336.05,206.2 336.18,200.8 336.30,205.5 336.43,200.8 336.55,204.1 336.68,200.9 336.80,203.3 336.93,207.2 337.05,200.1 337.18,200.2 337.30,201.2 337.43,203.3 337.55,200.3 337.68,195.4 337.80,200.1 337.93,196.9 338.05,200.4 338.18,202.4 338.30,199.1 338.43,200.0 338.55,196.0 338.68,203.0 338.80,199.8 338.93,206.1 339.05,205.9 339.18,199.4 339.30,201.1 339.43,202.5 339.55,204.9 339.68,196.7 339.80,202.1 339.93,208.7 340.05,202.1 340.18,203.1 340.30,202.4 340.43,198.3 340.55,205.6 340.68,203.3 340.80,203.0 340.93,204.9 341.05,205.1 341.18,196.0 341.30,204.1 341.43,200.4 341.55,203.0 341.68,200.0 341.80,199.5 341.93,205.7 342.05,202.4 342.18,201.5 342.30,201.5 342.43,202.7 342.55,202.4 342.68,194.4 342.80,199.5 342.93,201.7 343.05,205.0 343.18,207.1 343.30,199.3 343.43,209.1 343.55,202.8 343.68,204.2 343.80,200.7 343.93,200.5 344.05,207.4 344.18,201.8 344.30,202.2 344.43,206.5 344.55,208.4 344.68,197.5 344.80,201.9 344.93,202.6 345.05,208.8 345.18,202.4 345.30,203.9 345.43,205.6 345.55,206.6 345.68,201.5 345.80,205.6 345.93,200.3 346.05,198.0 346.18,203.4 346.30,205.3 346.43,195.0 346.55,196.5 346.68,202.6 346.80,204.6 346.93,206.2 347.05,205.3 347.18,202.1 347.30,207.6 347.43,203.7 347.55,202.0 347.68,203.2 347.80,206.0 347.93,203.4 348.05,202.9 348.18,197.9 348.30,204.5 348.43,202.9 348.55,209.1 348.68,202.8 348.80,202.5 348.93,200.7 349.05,205.3 349.18,202.2 349.30,200.5 349.43,208.3 349.55,208.9 349.68,201.3 349.80,199.4 349.93,206.7"/>
<polyline stroke="#0000ff" points="19.80,122.6 19.93,121.0 20.05,124.4 20.18,126.5 20.30,128.8 20.43,125.6 20.55,123.6 20.68,122.9 20.80,127.7 20.93,130.5 21.05,126.3 21.18,121.7 21.30,122.6 21.43,130.5 21.55,126.2 21.68,120.3 21.80,125.4 21.93,122.1 22.05,123.8 22.18,124.2 22.30,123.6 22.43,127.5 22.55,125.6 22.68,124.0 22.80,127.1 22.93,128.5 23.05,120.8 23.18,125.2 23.30,123.0 23.43,125.5 23.55,122.0 23.68,126.1 23.80,126.0 23.93,125.2 24.05,122.9 24.18,125.0 24.30,122.8 24.43,122.0 24.55,127.0 24.68,122.9 24.80,129.9 24.93,128.6 25.05,120.2 25.18,127.2 25.30,123.0 25.43,126.6 25.55,126.6 25.68,120.4 25.80,125.8 25.93,125.8 26.05,129.6 26.18,123.0 26.30,128.9 26.43,123.3 26.55,125.7 26.68,124.1 26.80,131.3 26.93,128.6 27.05,134.4 27.18,128.8 27.30,129.5 27.43,129.5 27.55,125.1 27.68,126.7 27.80,131.2 27.93,125.8 28.05,127.6 28.18,127.0 28.30,129.0 28.43,126.0 28.55,126.7 28.68,127.9 28.80,127.5 28.93,124.6 29.05,130.0 29.18,123.3 29.30,123.6 29.43,123.4 29.55,130.4 29.68,126.3 29.80,124.4 29.93,123.9 30.05,128.8 30.18,124.3 30.30,123.6 30.43,129.5 30.55,123.9 30.68,126.7 30.80,127.7 30.93,126.4 31.05,127.6 31.18,131.9 31.30,126.2 31.43,124.0 31.55,122.2 31.68,127.3 31.80,126.9 31.93,128.8 32.05,126.6 32.17,126.6 32.30,125.9 32.42,126.5 32.55,128.7 32.67,127.0 32.80,128.6 32.92,134.2 33.05,129.8 33.17,123.5 33.30,133.8 33.42,129.5 33.55,125.5 33.67,131.3 33.80,128.6 33.92,126.7 34.05,126.6 34.17,125.6 34.30,128.8 34.42,132.0 34.55,127.7 34.67,130.1 34.80,134.6 34.92,125.1 35.05,129.7 35.17,128.0 35.30,125.7 35.42,125.8 35.55,129.0 35.67,130.4 35.80,127.4 35.92,129.3 36.05,131.4 36.17,130.1 36.30,131.9 36.42,130.7 36.55,130.8 36.67,135.0 36.80,131.3 36.92,129.8 37.05,131.6 37.17,126.6 37.30,128.5 37.42,132.0 37.55,131.5 37.67,134.4 37.80,129.7 37.92,125.2 38.05,135.7 38.17,133.1 38.30,126.5 38.42,134.1 38.55,130.0 38.67,124.3 38.80,128.6 38.92,128.4 39.05,134.9 39.17,127.6 39.30,129.3 39.42,129.2 39.55,129.0 39.67,127.3 39.80,130.9 39.92,133.6 40.05,132.2 40.17,127.4 40.30,126.7 40.42,130.7 40.55,128.1 40.67,128.4 40.80,125.2 40.92,136.4 41.05,133.2 41.17,127.4 41.30,133.2 41.42,134.6 41.55,123.0 41.67,128.8 41.80,129.3 41.92,132.5 42.05,130.1 42.17,129.8 42.30,130.4 42.42,136.3 42.55,137.3 42.67,129.0 42.80,127.7 42.92,127.6 43.05,128.8 43.17,130.7 43.30,132.1 43.42,133.9 43.55,131.9 43.67,128.0 43.80,132.3 43.92,131.5 44.05,136.6 44.17,130.7 44.30,126.6 44.42,127.5 44.55,135.3 44.67,129.1 44.80,124.3 44.92,129.0 45.05,130.9 45.17,134.6 45.30,127.7 45.42,133.0 45.55,133.4 45.67,128.8 45.80,130.4 45.92,136.4 46.05,136.3 46.17,133.6 46.30,132.0 46.42,134.5 46.55,130.6 46.67,130.8 46.80,128.4 46.92,131.1 47.05,130.8 47.17,130.5 47.30,135.1 47.42,135.2 47.55,130.6 47.67,134.8 47.80,124.4 47.92,131.5 48.05,133.9 48.17,123.8 48.30,127.6 48.42,134.5 48.55,130.5 48.67,127.9 48.80,130.1 48.92,129.6 49.05,133.6 49.17,132.7 49.30,130.5 49.42,129.3 49.55,131.2 49.67,135.5 49.80,132.5 49.92,133.4 50.05,131.0 50.17,127.4 50.30,129.2 50.42,133.4 50.55,131.7 50.67,128.6 50.80,126.4 50.92,131.8 51.05,130.4 51.17,130.3 51.30,130.4 51.42,132.3 51.55,132.3 51.67,134.4 51.80,134.3 51.92,135.5 52.05,133.9 52.17,130.3 52.30,131.2 52.42,132.9 52.55,130.4 52.67,133.1 52.80,134.9 52.92,128.9 53.05,125.9 53.17,135.1 53.30,131.4 53.42,133.5 53.55,127.2 53.67,136.7 53.80,133.6 53.92,130.9 54.05,130.2 54.17,131.7 54.30,130.8 54.42,130.5 54.55,127.9 54.67,135.2 54.80,131.2 54.92,131.5 55.05,131.6 55.17,124.0 55.30,132.9 55.42,130.3 55.55,130.4 55.67,131.5 55.80,128.3 55.92,133.9 56.05,129.1 56.17,128.5 56.30,128.6 56.42,131.8 56.55,133.6 56.67,129.4 56.80,126.6 56.92,134.5 57.05,128.0 57.17,135.0 57.30,131.1 57.42,129.1 57.55,129.3 57.67,132.7 57.80,134.0 57.92,130.6 58.05,134.2 58.17,137.7 58.30,130.6 58.42,127.7 58.55,128.0 58.67,126.9 58.80,129.2 58.92,129.0 59.05,127.1 59.17,132.8 59.30,127.1 59.42,137.4 59.55,134.4 59.67,132.8 59.80,132.6 59.92,136.7 60.05,132.8 60.17,131.4 60.30,127.3 60.42,130.9 60.55,128.9 60.67,128.9 60.80,128.9 60.92,131.0 61.05,130.1 61.17,133.8 61.30,127.0 61.42,130.5 61.55,136.8 61.67,131.1 61.80,134.7 61.92,134.5 62.05,135.1 62.17,133.3 62.30,126.7 62.42,130.1 62.55,129.8 62.67,126.1 62.80,129.5 62.92,127.0 63.05,125.7 63.17,131.5 63.30,130.7 63.42,128.7 63.55,127.9 63.67,129.2 63.80,129.6 63.92,129.6 64.05,130.6 64.17,129.4 64.30,132.0 64.42,132.4 64.55,131.9 64.67,128.7 64.80,128.8 64.92,132.1 65.05,130.1 65.17,130.6 65.30,123.0 65.42,131.7 65.55,131.7 65.67,134.9 65.80,132.9 65.92,131.3 66.05,130.7 66.17,126.2 66.30,133.3 66.42,128.7 66.55,132.1 66.67,131.2 66.80,131.4 66.92,133.3 67.05,129.0 67.17,129.3 67.30,127.8 67.42,129.3 67.55,135.6 67.67,129.3 67.80,134.1 67.92,133.0 68.05,132.6 68.17,132.9 68.30,127.2 68.42,131.5 68.55,135.2 68.67,128.2 68.80,130.2 68.92,128.2 69.05,131.3 69.17,126.9 69.30,135.2 69.42,129.1 69.55,125.5 69.67,135.7 69.80,133.2 69.92,131.8 70.05,131.8 70.17,129.1 70.30,129.5 70.42,132.4 70.55,132.9 70.67,133.0 70.80,130.8 70.92,128.7 71.05,129.5 71.17,133.5 71.30,134.5 71.42,129.0 71.55,128.6 71.67,133.9 71.80,132.2 71.92,132.1 72.05,126.0 72.17,128.8 72.30,128.4 72.42,130.6 72.55,124.8 72.67,133.8 72.80,130.8 72.92,131.2 73.05,126.3 73.17,129.8 73.30,134.0 73.42,125.0 73.55,130.8 73.67,132.0 73.80,127.7 73.92,132.3 74.05,128.8 74.17,133.5 74.30,131.3 74.42,130.4 74.55,135.8 74.67,132.2 74.80,133.7 74.92,126.0 75.05,127.6 75.17,132.1 75.30,132.3 75.42,129.4 75.55,131.9 75.67,126.3 75.80,130.1 75.92,125.9 76.05,130.4 76.17,127.9 76.30,127.4 76.42,129.5 76.55,134.8 76.67,126.1 76.80,127.3 76.92,132.3 77.05,127.8 77.17,134.3 77.30,129.6 77.42,129.1 77.55,129.8 77.67,133.9 77.80,130.5 77.92,130.0 78.05,129.0 78.17,123.5 78.30,125.3 78.42,132.2 78.55,130.0 78.67,128.8 78.80,129.0 78.92,125.3 79.05,127.5 79.17,123.6 79.30,126.9 79.42,123.4 79.55,124.4 79.67,125.7 79.80,123.1 79.92,125.1 80.05,123.9 80.17,123.0 80.30,124.7 80.42,116.8 80.55,115.7 80.67,120.2 80.80,119.9 80.92,121.2 81.05,117.2 81.17,116.1 81.30,111.2 81.42,113.2 81.55,111.6 81.67,106.9 81.80,105.8 81.92,105.5 82.05,104.4 82.17,102.4 82.30,100.8 82.42,98.5 82.55,97.2 82.67,95.5 82.80,91.8 82.92,91.6 83.05,88.8 83.17,86.0 83.30,85.5 83.42,85.2 83.55,79.6 83.67,77.6 83.80,75.8 83.92,78.6 84.05,74.2 84.17,72.9 84.30,70.5 84.42,69.0 84.55,66.5 84.67,68.1 84.80,67.3 84.92,63.8 85.05,64.4 85.17,64.3 85.30,65.0 85.42,65.3 85.55,66.5 85.67,67.1 85.80,67.2 85.92,68.1 86.05,65.8 86.17,67.5 86.30,70.7 86.42,70.9 86.55,71.9 86.67,70.9 86.80,72.6 86.92,77.5 87.05,78.7 87.17,79.7 87.30,81.4 87.42,81.7 87.55,86.2 87.67,88.9 87.80,91.6 87.92,91.6 88.05,93.2 88.17,93.9 88.30,98.7 88.42,101.1 88.55,100.0 88.67,102.9 88.80,104.3 88.92,104.9 89.05,103.1 89.17,108.2 89.30,111.5 89.42,108.8 89.55,111.2 89.67,117.0 89.80,116.5 89.92,116.6 90.05,116.8 90.17,116.9 90.30,119.1 90.42,119.3 90.55,120.3 90.67,121.5 90.80,122.6 90.92,127.0 91.05,119.4 91.17,124.6 91.30,122.6 91.42,121.5 91.55,118.4 91.67,127.2 91.80,122.9 91.92,123.8 92.05,127.6 92.17,123.3 92.30,126.8 92.42,126.6 92.55,129.4 92.67,130.2 92.80,124.7 92.92,130.1 93.05,127.2 93.17,128.0 93.30,127.0 93.42,130.1 93.55,124.1 93.67,128.6 93.80,131.4 93.92,127.1 94.05,134.1 94.17,125.8 94.30,128.7 94.42,126.6 94.55,126.2 94.67,124.7 94.80,126.5 94.92,128.0 95.05,125.7 95.17,130.8 95.30,132.8 95.42,123.5 95.55,130.7 95.67,128.7 95.80,128.9 95.92,135.7 96.05,131.9 96.17,129.2 96.30,128.8 96.42,121.6 96.55,130.6 96.67,125.9 96.80,128.8 96.92,128.5 97.05,131.2 97.17,134.4 97.30,131.2 97.42,132.1 97.55,127.5 97.67,129.6 97.80,130.6 97.92,123.8 98.05,134.5 98.17,126.0 98.30,124.3 98.42,133.2 98.55,134.7 98.67,126.0 98.80,126.3 98.92,128.5 99.05,122.1 99.17,126.3 99.30,134.3 99.42,130.2 99.55,130.5 99.67,131.9 99.80,130.2 99.92,127.1 100.05,123.2 100.17,129.6 100.30,124.8 100.42,128.1 100.55,133.7 100.67,130.0 100.80,128.5 100.92,128.6 101.05,130.7 101.17,131.3 101.30,124.4 101.42,129.1 101.55,133.8 101.67,130.9 101.80,126.2 101.92,126.5 102.05,122.3 102.17,126.2 102.30,133.7 102.42,128.5 102.55,126.2 102.67,127.0 102.80,128.5 102.92,128.6 103.05,127.8 103.17,126.6 103.30,130.9 103.42,133.8 103.55,127.3 103.67,127.4 103.80,132.8 103.92,124.6 104.05,127.3 104.17,128.0 104.30,129.7 104.42,128.4 104.55,126.5 104.67,130.3 104.80,125.7 104.92,124.0 105.05,123.1 105.17,131.7 105.30,124.1 105.42,130.9 105.55,131.6 105.67,132.0 105.80,129.0 105.92,127.9 106.05,129.9 106.17,127.8 106.30,125.7 106.42,133.6 106.55,127.0 106.67,135.3 106.80,131.4 106.92,128.4 107.05,131.2 107.17,133.7 107.30,125.7 107.42,127.1 107.55,126.7 107.67,130.5 107.80,131.3 107.92,130.1 108.05,127.8 108.17,128.5 108.30,133.8 108.42,133.6 108.55,130.6 108.67,126.2 108.80,132.2 108.92,131.1 109.05,131.0 109.17,135.6 109.30,132.8 109.42,127.3 109.55,127.4 109.67,134.6 109.80,131.0 109.92,133.2 110.05,130.1 110.17,127.5 110.30,131.4 110.42,135.4 110.55,131.6 110.67,127.1 110.80,129.6 110.92,129.0 111.05,131.1 111.17,133.7 111.30,136.6 111.42,131.3 111.55,129.2 111.67,130.8 111.80,130.6 111.92,129.2 112.05,130.6 112.17,130.5 112.30,126.8 112.42,132.1 112.55,129.3 112.67,127.4 112.80,131.9 112.92,128.8 113.05,135.6 113.17,131.7 113.30,130.5 113.42,127.9 113.55,128.9 113.67,132.7 113.80,128.0 113.92,132.4 114.05,123.6 114.17,130.6 114.30,132.4 114.42,130.9 114.55,129.8 114.67,132.8 114.80,127.1 114.92,126.7 115.05,129.9 115.17,133.2 115.30,130.8 115.42,128.9 115.55,130.3 115.67,130.7 115.80,125.6 115.92,126.2 116.05,124.7 116.17,127.4 116.30,125.5 116.42,126.4 116.55,130.2 116.67,129.2 116.80,128.7 116.92,133.7 117.05,127.3 117.17,127.5 117.30,132.3 117.42,125.2 117.55,123.6 117.67,132.2 117.80,129.2 117.92,129.9 118.05,130.0 118.17,130.7 118.30,126.6 118.42,127.7 118.55,124.6 118.67,128.2 118.80,128.4 118.92,126.4 119.05,129.5 119.17,124.2 119.30,129.9 119.42,130.1 119.55,130.4 119.67,125.0 119.80,130.7 119.92,129.0 120.05,126.7 120.17,126.1 120.30,127.7 120.42,129.5 120.55,129.3 120.67,133.2 120.80,125.7 120.92,128.4 121.05,125.3 121.17,128.7 121.30,126.8 121.42,124.6 121.55,122.5 121.67,124.0 121.80,126.7 121.92,130.0 122.05,127.9 122.17,122.4 122.30,124.2 122.42,125.5 122.55,124.9 122.67,125.2 122.80,127.0 122.92,125.2 123.05,122.6 123.17,119.1 123.30,123.1 123.42,119.3 123.55,123.0 123.67,123.9 123.80,119.3 123.92,122.0 124.05,121.2 124.17,126.4 124.30,122.3 124.42,116.2 124.55,121.4 124.67,120.9 124.80,118.9 124.92,118.0 125.05,119.8 125.17,119.4 125.30,118.4 125.42,114.7 125.55,115.8 125.67,112.6 125.80,112.3 125.92,113.8 126.05,112.4 126.17,113.3 126.30,118.7 126.42,114.4 126.55,111.4 126.67,108.7 126.80,111.0 126.92,109.8 127.05,108.2 127.17,113.8 127.30,111.5 127.42,113.4 127.55,113.2 127.67,113.1 127.80,113.8 127.92,112.9 128.05,112.2 128.18,113.8 128.30,117.0 128.43,114.6 128.55,112.8 128.68,113.6 128.80,114.6 128.93,117.4 129.05,119.1 129.18,119.7 129.30,122.0 129.43,119.4 129.55,122.5 129.68,121.9 129.80,123.4 129.93,117.7 130.05,126.0 130.18,119.4 130.30,121.0 130.43,126.4 130.55,123.8 130.68,130.0 130.80,126.2 130.93,123.3 131.05,126.9 131.18,125.7 131.30,131.5 131.43,132.0 131.55,129.8 131.68,126.9 131.80,128.5 131.93,131.5 132.05,126.4 132.18,126.6 132.30,131.5 132.43,131.4 132.55,128.7 132.68,128.8 132.80,124.0 132.93,133.3 133.05,129.6 133.18,125.9 133.30,126.9 133.43,127.7 133.55,135.4 133.68,132.6 133.80,126.7 133.93,136.2 134.05,134.8 134.18,127.8 134.30,133.9 134.43,129.3 134.55,130.8 134.68,129.7 134.80,135.1 134.93,135.9 135.05,133.9 135.18,131.1 135.30,132.4 135.43,133.6 135.55,127.0 135.68,135.6 135.80,130.9 135.93,132.7 136.05,132.4 136.18,134.8 136.30,135.3 136.43,138.9 136.55,131.1 136.68,129.5 136.80,132.7 136.93,130.4 137.05,135.0 137.18,130.0 137.30,132.9 137.43,135.4 137.55,135.7 137.68,133.3 137.80,137.0 137.93,136.7 138.05,127.6 138.18,133.9 138.30,133.4 138.43,131.9 138.55,130.9 138.68,133.1 138.80,134.1 138.93,133.8 139.05,137.2 139.18,136.1 139.30,131.2 139.43,130.7 139.55,135.7 139.68,131.0 139.80,133.6 139.93,134.6 140.05,136.3 140.18,134.8 140.30,137.6 140.43,131.8 140.55,135.3 140.68,131.2 140.80,133.8 140.93,133.6 141.05,130.4 141.18,136.2 141.30,134.4 141.43,133.7 141.55,131.1 141.68,132.3 141.80,134.7 141.93,133.4 142.05,136.8 142.18,133.6 142.30,130.8 142.43,135.2 142.55,131.3 142.68,133.9 142.80,127.7 142.93,132.2 143.05,134.9 143.18,131.2 143.30,133.1 143.43,135.0 143.55,133.4 143.68,138.6 143.80,132.4 143.93,132.6 144.05,132.6 144.18,127.1 144.30,128.4 144.43,134.7 144.55,132.1 144.68,137.3 144.80,132.8 144.93,132.5 145.05,136.1 145.18,133.8 145.30,137.7 145.43,129.6 145.55,134.1 145.68,134.8 145.80,134.4 145.93,136.1 146.05,135.7 146.18,132.7 146.30,130.8 146.43,135.4 146.55,132.6 146.68,135.2 146.80,136.4 146.93,132.9 147.05,129.5 147.18,131.4 147.30,134.5 147.43,131.4 147.55,135.5 147.68,132.1 147.80,132.3 147.93,130.0 148.05,131.5 148.18,135.0 148.30,130.7 148.43,130.6 148.55,129.2 148.68,133.7 148.80,126.9 148.93,129.3 149.05,133.8 149.18,135.2 149.30,130.3 149.43,133.6 149.55,124.9 149.68,132.8 149.80,131.3 149.93,126.8 150.05,125.1 150.18,128.6 150.30,130.7 150.43,130.8 150.55,129.9 150.68,131.6 150.80,131.2 150.93,125.1 151.05,127.7 151.18,127.1 151.30,131.1 151.43,126.6 151.55,130.5 151.68,127.7 151.80,133.4 151.93,126.6 152.05,126.4 152.18,125.8 152.30,126.1 152.43,131.6 152.55,123.6 152.68,122.3 152.80,123.6 152.93,125.4 153.05,120.8 153.18,124.8 153.30,124.3 153.43,121.6 153.55,121.0 153.68,119.3 153.80,120.1 153.93,118.6 154.05,122.9 154.18,123.4 154.30,118.8 154.43,119.0 154.55,114.6 154.68,117.5 154.80,119.2 154.93,118.9 155.05,118.4 155.18,119.9 155.30,118.2 155.43,117.1 155.55,121.5 155.68,113.9 155.80,115.6 155.93,116.6 156.05,116.8 156.18,116.9 156.30,118.3 156.43,117.5 156.55,119.2 156.68,120.9 156.80,120.0 156.93,120.5 157.05,118.4 157.18,118.2 157.30,120.6 157.43,123.8 157.55,122.9 157.68,125.0 157.80,125.1 157.93,125.8 158.05,121.3 158.18,126.8 158.30,125.9 158.43,129.7 158.55,126.2 158.68,125.8 158.80,124.8 158.93,125.9 159.05,121.3 159.18,125.3 159.30,126.0 159.43,129.0 159.55,124.7 159.68,127.1 159.80,131.9 159.93,125.6 160.05,129.5 160.18,125.8 160.30,127.1 160.43,128.8 160.55,130.1 160.68,126.3 160.80,125.0 160.93,132.1 161.05,128.5 161.18,130.3 161.30,130.7 161.43,130.3 161.55,127.5 161.68,127.9 161.80,124.0 161.93,128.9 162.05,127.1 162.18,128.4 162.30,133.9 162.43,130.6 162.55,128.8 162.68,124.8 162.80,130.8 162.93,133.1 163.05,126.5 163.18,130.1 163.30,127.5 163.43,128.5 163.55,128.0 163.68,124.4 163.80,127.6 163.93,124.5 164.05,133.2 164.18,132.2 164.30,129.4 164.43,130.1 164.55,129.5 164.68,130.0 164.80,130.0 164.93,128.8 165.05,129.1 165.18,125.7 165.30,126.8 165.43,128.0 165.55,130.4 165.68,128.8 165.80,135.5 165.93,129.4 166.05,129.0 166.18,131.3 166.30,133.1 166.43,135.6 166.55,133.1 166.68,128.6 166.80,129.9 166.93,133.5 167.05,131.2 167.18,132.9 167.30,130.4 167.43,135.3 167.55,134.9 167.68,134.0 167.80,131.2 167.93,126.1 168.05,126.9 168.18,131.9 168.30,132.9 168.43,129.6 168.55,134.5 168.68,133.9 168.80,129.7 168.93,133.1 169.05,131.3 169.18,130.6 169.30,134.6 169.43,134.7 169.55,129.8 169.68,128.6 169.80,127.6 169.93,127.3 170.05,135.5 170.18,137.2 170.30,132.3 170.43,134.8 170.55,129.6 170.68,131.5 170.80,134.5 170.93,132.7 171.05,131.7 171.18,126.9 171.30,127.5 171.43,130.7 171.55,130.3 171.68,131.7 171.80,130.1 171.93,131.4 172.05,132.2 172.18,133.6 172.30,132.3 172.43,130.5 172.55,131.3 172.68,134.9 172.80,131.5 172.93,129.3 173.05,129.2 173.18,133.1 173.30,133.9 173.43,135.9 173.55,131.3 173.68,136.4 173.80,131.3 173.93,131.6 174.05,130.6 174.18,133.9 174.30,135.5 174.43,132.3 174.55,130.9 174.68,127.8 174.80,132.8 174.93,131.4 175.05,131.8 175.18,130.5 175.30,129.8 175.43,131.1 175.55,133.8 175.68,135.3 175.80,132.4 175.93,133.4 176.05,131.8 176.18,132.1 176.30,128.3 176.43,135.1 176.55,134.2 176.68,136.8 176.80,130.6 176.93,132.8 177.05,129.7 177.18,133.2 177.30,132.1 177.43,134.5 177.55,132.0 177.68,134.4 177.80,131.0 177.93,134.2 178.05,131.5 178.18,131.1 178.30,132.7 178.43,133.6 178.55,128.2 178.68,127.9 178.80,133.0 178.93,132.3 179.05,126.4 179.18,127.3 179.30,130.1 179.43,133.4 179.55,133.1 179.68,135.5 179.80,136.0 179.93,139.6 180.05,128.1 180.18,132.3 180.30,135.6 180.43,128.7 180.55,128.2 180.68,133.0 180.80,135.7 180.93,136.2 181.05,127.1 181.18,128.8 181.30,132.1 181.43,130.8 181.55,133.4 181.68,132.8 181.80,137.7 181.93,132.2 182.05,133.0 182.18,132.7 182.30,135.8 182.43,129.1 182.55,133.6 182.68,130.1 182.80,128.2 182.93,136.0 183.05,134.0 183.18,136.6 183.30,133.2 183.43,134.4 183.55,132.8 183.68,134.1 183.80,131.2 183.93,137.6 184.05,129.8 184.18,137.6 184.30,131.8 184.43,135.1 184.55,132.9 184.68,133.8 184.80,136.9 184.93,132.9 185.05,129.6 185.18,133.2 185.30,134.4 185.43,125.0 185.55,135.4 185.68,135.7 185.80,127.0 185.93,131.9 186.05,134.9 186.18,128.9 186.30,131.1 186.43,131.3 186.55,134.1 186.68,135.7 186.80,132.3 186.93,132.5 187.05,135.1 187.18,134.0 187.30,132.0 187.43,136.4 187.55,128.0 187.68,132.8 187.80,131.0 187.93,130.7 188.05,132.9 188.18,132.4 188.30,139.7 188.43,134.2 188.55,133.3 188.68,137.3 188.80,135.3 188.93,126.5 189.05,132.6 189.18,134.5 189.30,130.3 189.43,133.1 189.55,130.8 189.68,133.3 189.80,127.2 189.93,126.2 190.05,130.4 190.18,132.8 190.30,136.2 190.43,131.2 190.55,129.8 190.68,134.9 190.80,132.2 190.93,137.5 191.05,131.8 191.18,126.1 191.30,129.6 191.43,129.1 191.55,127.7 191.68,129.6 191.80,129.8 191.93,131.1 192.05,130.2 192.18,133.2 192.30,133.2 192.43,132.4 192.55,132.5 192.68,126.1 192.80,126.7 192.93,129.1 193.05,132.6 193.18,127.3 193.30,130.5 193.43,132.5 193.55,137.8 193.68,132.5 193.80,130.1 193.93,135.0 194.05,132.3 194.18,130.7 194.30,135.0 194.43,128.7 194.55,132.1 194.68,131.7 194.80,134.2 194.93,127.9 195.05,127.4 195.18,130.1 195.30,130.4 195.43,131.4 195.55,130.0 195.68,132.5 195.80,133.2 195.93,131.7 196.05,127.8 196.18,134.4 196.30,126.2 196.43,130.2 196.55,133.4 196.68,128.8 196.80,134.5 196.93,136.3 197.05,135.2 197.18,131.7 197.30,133.3 197.43,128.7 197.55,131.4 197.68,131.5 197.80,130.4 197.93,130.5 198.05,129.3 198.18,124.0 198.30,131.0 198.43,130.7 198.55,135.8 198.68,131.7 198.80,129.8 198.93,132.1 199.05,131.3 199.18,129.4 199.30,128.2 199.43,125.0 199.55,129.6 199.68,134.0 199.80,123.7 199.93,126.4 200.05,131.3 200.18,129.7 200.30,130.3 200.43,123.6 200.55,127.3 200.68,130.5 200.80,130.8 200.93,129.9 201.05,126.4 201.18,130.6 201.30,125.5 201.43,126.3 201.55,125.7 201.68,133.3 201.80,127.9 201.93,129.3 202.05,122.7 202.18,132.5 202.30,130.6 202.43,124.4 202.55,124.6 202.68,134.3 202.80,126.7 202.93,135.0 203.05,128.2 203.18,122.3 203.30,133.0 203.43,131.3 203.55,131.9 203.68,128.4 203.80,129.3 203.93,132.9 204.05,127.6 204.18,124.2 204.30,132.9 204.43,128.4 204.55,134.2 204.68,128.9 204.80,129.2 204.93,129.8 205.05,123.4 205.18,134.2 205.30,128.8 205.43,130.2 205.55,135.3 205.68,131.2 205.80,133.6 205.93,132.0 206.05,133.4 206.18,131.9 206.30,134.6 206.43,130.5 206.55,132.6 206.68,129.0 206.80,134.9 206.93,124.6 207.05,131.9 207.18,132.4 207.30,132.4 207.43,131.4 207.55,135.5 207.68,138.0 207.80,129.6 207.93,125.6 208.05,128.1 208.18,129.0 208.30,131.1 208.43,131.4 208.55,134.9 208.68,130.2 208.80,131.5 208.93,131.9 209.05,128.9 209.18,130.6 209.30,131.3 209.43,128.6 209.55,124.9 209.68,134.8 209.80,130.6 209.93,129.7 210.05,139.2 210.18,136.1 210.30,126.3 210.43,130.6 210.55,134.8 210.68,134.2 210.80,128.2 210.93,137.2 211.05,137.4 211.18,128.2 211.30,126.2 211.43,127.4 211.55,133.7 211.68,135.0 211.80,132.3 211.93,129.8 212.05,131.4 212.18,133.4 212.30,127.9 212.43,126.4 212.55,131.4 212.68,135.5 212.80,132.3 212.93,132.3 213.05,129.6 213.18,134.5 213.30,126.4 213.43,131.5 213.55,129.9 213.68,131.2 213.80,128.8 213.93,134.0 214.05,131.5 214.18,129.8 214.30,133.3 214.43,131.5 214.55,130.1 214.68,129.9 214.80,134.1 214.93,128.8 215.05,131.0 215.18,130.9 215.30,132.6 215.43,131.1 215.55,138.3 215.68,126.2 215.80,133.5 215.93,131.5 216.05,135.1 216.18,126.6 216.30,135.4 216.43,127.3 216.55,133.8 216.68,133.2 216.80,131.7 216.93,129.3 217.05,129.1 217.18,131.9 217.30,129.3 217.43,125.5 217.55,126.0 217.68,134.0 217.80,134.1 217.93,133.2 218.05,131.7 218.18,132.7 218.30,133.1 218.43,132.3 218.55,129.1 218.68,129.3 218.80,128.0 218.93,132.0 219.05,128.5 219.18,131.1 219.30,135.6 219.43,130.4 219.55,134.6 219.68,136.4 219.80,125.9 219.93,127.1 220.05,133.0 220.18,129.3 220.30,133.2 220.43,133.7 220.55,129.9 220.68,134.1 220.80,136.9 220.93,134.5 221.05,128.8 221.18,131.1 221.30,129.9 221.43,136.4 221.55,130.9 221.68,129.4 221.80,131.7 221.93,133.1 222.05,130.3 222.18,131.8 222.30,131.5 222.43,133.8 222.55,134.5 222.68,132.4 222.80,130.1 222.93,132.8 223.05,128.7 223.18,134.8 223.30,132.6 223.43,132.3 223.55,124.0 223.68,138.8 223.80,136.0 223.93,135.4 224.05,131.9 224.18,133.6 224.30,129.4 224.43,133.8 224.55,133.4 224.68,132.0 224.80,132.6 224.93,128.5 225.05,133.5 225.18,127.5 225.30,137.2 225.43,134.0 225.55,128.9 225.68,125.1 225.80,131.9 225.93,133.1 226.05,128.5 226.18,136.7 226.30,132.4 226.43,130.1 226.55,127.2 226.68,131.2 226.80,130.9 226.93,133.6 227.05,134.8 227.18,131.6 227.30,133.0 227.43,136.0 227.55,133.5 227.68,130.7 227.80,133.4 227.93,129.9 228.05,132.9 228.18,131.7 228.30,128.1 228.43,133.4 228.55,131.8 228.68,133.8 228.80,127.4 228.93,134.9 229.05,135.0 229.18,130.4 229.30,131.2 229.43,131.6 229.55,131.4 229.68,134.0 229.80,129.2 229.93,127.8 230.05,130.7 230.18,137.3 230.30,130.3 230.43,128.4 230.55,128.7 230.68,132.1 230.80,135.2 230.93,129.3 231.05,132.2 231.18,132.3 231.30,133.1 231.43,132.2 231.55,135.0 231.68,133.9 231.80,129.9 231.93,139.4 232.05,127.7 232.18,127.8 232.30,135.2 232.43,132.6 232.55,131.2 232.68,132.7 232.80,134.2 232.93,130.8 233.05,130.2 233.18,128.9 233.30,129.5 233.43,129.8 233.55,135.8 233.68,133.2 233.80,134.0 233.93,130.6 234.05,135.7 234.18,127.6 234.30,133.9 234.43,134.7 234.55,130.7 234.68,129.4 234.80,134.2 234.93,130.4 235.05,129.9 235.18,132.6 235.30,129.3 235.43,132.3 235.55,139.1 235.68,131.5 235.80,135.7 235.93,129.6 236.05,133.2 236.18,132.1 236.30,132.5 236.43,135.4 236.55,139.7 236.68,132.7 236.80,137.2 236.93,134.2 237.05,135.5 237.18,131.8 237.30,131.1 237.43,132.7 237.55,130.9 237.68,133.3 237.80,130.1 237.93,133.4 238.05,134.0 238.18,139.1 238.30,138.9 238.43,135.2 238.55,132.0 238.68,135.5 238.80,136.2 238.93,133.1 239.05,131.1 239.18,128.2 239.30,133.7 239.43,139.8 239.55,133.2 239.68,135.1 239.80,135.1 239.93,135.5 240.05,136.4 240.18,127.8 240.30,133.6 240.43,135.3 240.55,133.9 240.68,138.0 240.80,133.1 240.93,137.1 241.05,139.8 241.18,133.6 241.30,134.5 241.43,133.5 241.55,136.8 241.68,127.9 241.80,130.0 241.93,133.7 242.05,137.3 242.18,136.5 242.30,132.1 242.43,139.7 242.55,135.1 242.68,132.8 242.80,136.4 242.93,138.9 243.05,134.6 243.18,130.2 243.30,133.2 243.43,135.2 243.55,137.9 243.68,131.9 243.80,135.8 243.93,131.4 244.05,135.3 244.18,131.0 244.30,133.7 244.43,130.4 244.55,132.1 244.68,130.3 244.80,129.1 244.93,139.1 245.05,138.9 245.18,136.8 245.30,134.2 245.43,139.9 245.55,134.5 245.68,136.8 245.80,139.0 245.93,136.2 246.05,140.1 246.18,135.1 246.30,135.1 246.43,136.0 246.55,132.1 246.68,132.3 246.80,138.1 246.93,130.4 247.05,139.3 247.18,136.6 247.30,139.5 247.43,138.2 247.55,137.7 247.68,141.3 247.80,135.7 247.93,135.6 248.05,139.5 248.18,134.0 248.30,139.6 248.43,138.2 248.55,134.5 248.68,132.2 248.80,129.9 248.93,142.0 249.05,131.6 249.18,132.5 249.30,138.9 249.43,137.7 249.55,136.9 249.68,136.6 249.80,135.0 249.93,133.5 250.05,134.1 250.18,138.2 250.30,139.8 250.43,140.1 250.55,136.3 250.68,129.5 250.80,138.1 250.93,136.1 251.05,140.9 251.18,137.3 251.30,136.4 251.43,137.3 251.55,137.1 251.68,137.4 251.80,137.1 251.93,136.8 252.05,138.6 252.18,137.9 252.30,144.4 252.43,137.3 252.55,135.3 252.68,135.1 252.80,138.2 252.93,137.4 253.05,137.8 253.18,136.5 253.30,136.6 253.43,139.5 253.55,141.4 253.68,138.3 253.80,136.9 253.93,133.7 254.05,133.7 254.18,137.4 254.30,136.6 254.43,137.0 254.55,133.9 254.68,137.0 254.80,131.3 254.93,133.7 255.05,135.0 255.18,139.3 255.30,135.5 255.43,134.5 255.55,138.3 255.68,137.2 255.80,140.4 255.93,138.5 256.05,138.2 256.18,137.0 256.30,139.6 256.43,135.3 256.55,132.9 256.68,140.4 256.80,136.2 256.93,137.8 257.05,139.6 257.18,140.9 257.30,134.5 257.43,141.6 257.55,132.5 257.68,139.3 257.80,136.7 257.93,135.1 258.05,137.5 258.18,132.7 258.30,139.2 258.43,141.6 258.55,133.6 258.68,135.9 258.80,141.8 258.93,139.2 259.05,137.1 259.18,142.6 259.30,132.9 259.43,137.3 259.55,138.5 259.68,137.2 259.80,140.7 259.93,133.1 260.05,138.4 260.18,135.8 260.30,142.0 260.43,141.6 260.55,136.0 260.68,134.9 260.80,138.2 260.93,135.6 261.05,136.6 261.18,139.7 261.30,136.9 261.43,144.0 261.55,138.6 261.68,136.7 261.80,134.9 261.93,136.7 262.05,141.8 262.18,140.1 262.30,142.8 262.43,142.5 262.55,140.1 262.68,136.2 262.80,137.9 262.93,138.6 263.05,133.3 263.18,139.5 263.30,135.2 263.43,138.2 263.55,136.8 263.68,140.3 263.80,134.7 263.93,138.4 264.05,144.8 264.18,135.6 264.30,137.8 264.43,138.2 264.55,139.5 264.68,133.5 264.80,139.5 264.93,140.4 265.05,138.3 265.18,136.8 265.30,139.0 265.43,139.6 265.55,143.4 265.68,138.5 265.80,138.5 265.93,137.8 266.05,139.0 266.18,134.7 266.30,143.4 266.43,137.2 266.55,137.2 266.68,143.8 266.80,138.7 266.93,137.4 267.05,143.8 267.18,139.3 267.30,141.6 267.43,137.0 267.55,133.2 267.68,139.3 267.80,143.2 267.93,137.3 268.05,139.9 268.18,141.0 268.30,139.6 268.43,139.0 268.55,141.2 268.68,139.5 268.80,137.2 268.93,142.1 269.05,141.4 269.18,140.0 269.30,141.1 269.43,139.7 269.55,139.0 269.68,132.7 269.80,145.4 269.93,140.0 270.05,137.6 270.18,137.8 270.30,139.8 270.43,138.9 270.55,133.9 270.68,137.7 270.80,140.4 270.93,140.9 271.05,141.7 271.18,135.7 271.30,137.0 271.43,140.2 271.55,137.1 271.68,139.7 271.80,136.5 271.93,140.9 272.05,139.3 272.18,140.9 272.30,139.2 272.43,136.7 272.55,135.3 272.68,139.3 272.80,137.2 272.93,134.5 273.05,137.5 273.18,141.6 273.30,143.0 273.43,141.6 273.55,143.4 273.68,138.1 273.80,138.8 273.93,136.3 274.05,136.8 274.18,144.3 274.30,140.6 274.43,141.3 274.55,145.3 274.68,136.6 274.80,142.4 274.93,137.0 275.05,142.4 275.18,133.5 275.30,136.4 275.43,136.5 275.55,145.6 275.68,133.8 275.80,142.8 275.93,142.7 276.05,139.8 276.18,142.0 276.30,140.2 276.43,138.5 276.55,143.6 276.68,141.9 276.80,135.8 276.93,140.0 277.05,140.3 277.18,135.9 277.30,136.5 277.43,137.4 277.55,135.7 277.68,141.1 277.80,140.4 277.93,132.5 278.05,138.1 278.18,139.9 278.30,135.1 278.43,138.4 278.55,140.2 278.68,133.9 278.80,138.2 278.93,131.7 279.05,141.4 279.18,136.7 279.30,134.4 279.43,133.1 279.55,133.7 279.68,142.9 279.80,136.1 279.93,137.0 280.05,137.5 280.18,133.9 280.30,141.0 280.43,141.4 280.55,136.1 280.68,138.6 280.80,139.3 280.93,141.0 281.05,134.4 281.18,140.2 281.30,138.1 281.43,137.7 281.55,137.3 281.68,141.6 281.80,139.6 281.93,142.0 282.05,140.9 282.18,131.8 282.30,137.7 282.43,141.2 282.55,135.1 282.68,132.7 282.80,130.7 282.93,144.2 283.05,135.1 283.18,138.5 283.30,134.6 283.43,139.3 283.55,143.2 283.68,133.4 283.80,137.7 283.93,135.5 284.05,132.0 284.18,135.1 284.30,138.0 284.43,141.8 284.55,142.0 284.68,137.9 284.80,132.7 284.93,140.0 285.05,137.9 285.18,137.9 285.30,134.3 285.43,137.4 285.55,144.2 285.68,142.7 285.80,142.0 285.93,140.1 286.05,136.7 286.18,137.9 286.30,138.4 286.43,139.2 286.55,136.8 286.68,135.2 286.80,141.5 286.93,136.7 287.05,140.6 287.18,137.4 287.30,140.1 287.43,139.5 287.55,140.3 287.68,140.1 287.80,134.9 287.93,133.6 288.05,137.8 288.18,143.1 288.30,135.3 288.43,135.0 288.55,145.1 288.68,133.0 288.80,136.1 288.93,136.6 289.05,135.7 289.18,135.8 289.30,141.3 289.43,138.5 289.55,138.5 289.68,132.6 289.80,140.4 289.93,138.4 290.05,138.3 290.18,140.5 290.30,138.9 290.43,137.8 290.55,139.2 290.68,135.6 290.80,135.0 290.93,133.6 291.05,140.9 291.18,135.8 291.30,138.4 291.43,141.4 291.55,143.6 291.68,136.7 291.80,138.4 291.93,138.2 292.05,133.7 292.18,136.3 292.30,137.6 292.43,143.4 292.55,140.3 292.68,143.4 292.80,142.0 292.93,138.6 293.05,133.9 293.18,142.4 293.30,140.1 293.43,139.4 293.55,140.6 293.68,135.3 293.80,138.2 293.93,137.8 294.05,133.1 294.18,134.0 294.30,137.4 294.43,130.8 294.55,140.1 294.68,140.2 294.80,137.6 294.93,138.7 295.05,132.0 295.18,138.3 295.30,140.1 295.43,139.4 295.55,140.7 295.68,137.6 295.80,144.0 295.93,139.1 296.05,140.3 296.18,141.2 296.30,135.3 296.43,134.2 296.55,140.2 296.68,133.8 296.80,135.8 296.93,140.8 297.05,134.3 297.18,134.6 297.30,133.8 297.43,134.4 297.55,143.6 297.68,139.4 297.80,140.7 297.93,131.6 298.05,130.1 298.18,134.1 298.30,141.0 298.43,141.4 298.55,131.4 298.68,132.2 298.80,139.7 298.93,138.5 299.05,139.0 299.18,139.7 299.30,134.5 299.43,138.0 299.55,136.8 299.68,141.5 299.80,136.7 299.93,131.7 300.05,141.6 300.18,143.3 300.30,140.7 300.43,136.6 300.55,134.7 300.68,140.9 300.80,136.0 300.93,139.4 301.05,140.2 301.18,137.3 301.30,131.4 301.43,139.3 301.55,134.6 301.68,132.8 301.80,137.6 301.93,138.2 302.05,137.5 302.18,139.8 302.30,131.8 302.43,139.7 302.55,143.0 302.68,137.6 302.80,136.3 302.93,137.3 303.05,141.8 303.18,137.3 303.30,135.4 303.43,132.6 303.55,142.4 303.68,142.5 303.80,138.0 303.93,144.6 304.05,136.8 304.18,140.3 304.30,133.9 304.43,134.9 304.55,138.1 304.68,139.6 304.80,140.1 304.93,135.3 305.05,136.5 305.18,137.8 305.30,137.3 305.43,137.4 305.55,140.8 305.68,141.9 305.80,132.4 305.93,142.4 306.05,138.8 306.18,139.3 306.30,139.3 306.43,141.2 306.55,140.5 306.68,133.5 306.80,141.1 306.93,134.8 307.05,139.6 307.18,139.1 307.30,133.5 307.43,138.5 307.55,137.6 307.68,136.3 307.80,144.9 307.93,139.0 308.05,137.3 308.18,144.0 308.30,138.4 308.43,138.1 308.55,132.2 308.68,140.4 308.80,141.7 308.93,144.6 309.05,135.4 309.18,141.9 309.30,143.0 309.43,140.9 309.55,138.7 309.68,133.5 309.80,139.3 309.93,136.9 310.05,133.2 310.18,140.6 310.30,138.3 310.43,138.0 310.55,145.0 310.68,137.1 310.80,132.2 310.93,131.8 311.05,140.4 311.18,138.1 311.30,136.4 311.43,132.1 311.55,136.2 311.68,135.3 311.80,138.5 311.93,136.1 312.05,136.1 312.18,138.7 312.30,136.4 312.43,139.9 312.55,135.0 312.68,142.7 312.80,139.5 312.93,135.5 313.05,138.3 313.18,137.1 313.30,137.8 313.43,143.4 313.55,137.6 313.68,139.6 313.80,136.3 313.93,136.6 314.05,134.1 314.18,136.9 314.30,137.7 314.43,138.1 314.55,139.2 314.68,139.4 314.80,141.1 314.93,138.4 315.05,143.2 315.18,141.0 315.30,143.5 315.43,139.0 315.55,143.0 315.68,139.5 315.80,134.0 315.93,139.1 316.05,138.7 316.18,134.7 316.30,136.1 316.43,137.3 316.55,146.4 316.68,140.3 316.80,145.0 316.93,142.2 317.05,142.7 317.18,141.9 317.30,134.7 317.43,143.3 317.55,136.2 317.68,140.8 317.80,139.1 317.93,144.5 318.05,143.2 318.18,145.2 318.30,141.0 318.43,139.5 318.55,141.9 318.68,147.0 318.80,141.1 318.93,139.7 319.05,135.7 319.18,137.2 319.30,139.3 319.43,141.7 319.55,141.5 319.68,139.3 319.80,140.0 319.93,144.4 320.05,145.3 320.18,143.3 320.30,144.4 320.43,143.5 320.55,145.3 320.68,135.7 320.80,138.0 320.93,140.4 321.05,140.9 321.18,143.8 321.30,133.9 321.43,140.1 321.55,140.5 321.68,137.6 321.80,139.3 321.93,142.8 322.05,141.2 322.18,139.3 322.30,140.4 322.43,139.3 322.55,142.7 322.68,139.4 322.80,142.8 322.93,138.0 323.05,139.7 323.18,136.3 323.30,139.1 323.43,142.4 323.55,136.6 323.68,138.7 323.80,140.1 323.93,138.7 324.05,142.4 324.18,136.0 324.30,142.5 324.43,144.0 324.55,145.0 324.68,139.7 324.80,137.4 324.93,135.0 325.05,142.0 325.18,142.5 325.30,140.8 325.43,141.0 325.55,142.0 325.68,138.8 325.80,135.3 325.93,135.5 326.05,137.5 326.18,137.1 326.30,135.0 326.43,138.6 326.55,136.7 326.68,142.0 326.80,139.8 326.93,142.5 327.05,135.9 327.18,136.6 327.30,135.0 327.43,140.9 327.55,140.7 327.68,138.7 327.80,140.7 327.93,139.9 328.05,143.1 328.18,140.0 328.30,137.3 328.43,134.1 328.55,141.2 328.68,143.2 328.80,140.5 328.93,137.3 329.05,138.7 329.18,139.1 329.30,141.9 329.43,139.9 329.55,143.8 329.68,139.5 329.80,138.1 329.93,145.9 330.05,137.0 330.18,137.7 330.30,146.7 330.43,141.0 330.55,145.7 330.68,132.4 330.80,144.1 330.93,140.2 331.05,140.5 331.18,141.7 331.30,137.4 331.43,141.6 331.55,137.9 331.68,147.6 331.80,142.2 331.93,143.4 332.05,137.2 332.18,142.2 332.30,137.6 332.43,136.5 332.55,144.3 332.68,138.1 332.80,138.7 332.93,142.4 333.05,137.7 333.18,136.3 333.30,141.0 333.43,141.1 333.55,145.1 333.68,136.8 333.80,142.5 333.93,142.5 334.05,138.9 334.18,139.8 334.30,140.4 334.43,137.1 334.55,136.2 334.68,142.5 334.80,137.0 334.93,137.3 335.05,142.8 335.18,138.6 335.30,139.1 335.43,136.0 335.55,136.5 335.68,136.0 335.80,136.0 335.93,144.2 336.05,137.3 336.18,133.1 336.30,136.8 336.43,142.5 336.55,136.7 336.68,140.1 336.80,137.3 336.93,134.8 337.05,138.5 337.18,137.0 337.30,140.8 337.43,142.5 337.55,140.0 337.68,136.9 337.80,144.4 337.93,141.6 338.05,144.6 338.18,141.9 338.30,133.2 338.43,139.3 338.55,143.5 338.68,140.3 338.80,136.1 338.93,138.5 339.05,141.3 339.18,144.1 339.30,138.4 339.43,140.6 339.55,137.3 339.68,136.5 339.80,138.6 339.93,144.5 340.05,142.5 340.18,139.4 340.30,140.2 340.43,141.9 340.55,139.9 340.68,138.9 340.80,139.3 340.93,142.2 341.05,139.0 341.18,142.7 341.30,134.4 341.43,137.9 341.55,138.9 341.68,142.1 341.80,137.3 341.93,138.5 342.05,141.2 342.18,139.9 342.30,138.1 342.43,139.2 342.55,137.3 342.68,142.7 342.80,141.6 342.93,142.9 343.05,147.3 343.18,144.2 343.30,141.9 343.43,140.0 343.55,147.4 343.68,141.2 343.80,139.8 343.93,144.5 344.05,141.9 344.18,139.8 344.30,142.0 344.43,146.7 344.55,141.1 344.68,141.9 344.80,138.0 344.93,139.3 345.05,143.6 345.18,140.6 345.30,141.2 345.43,144.3 345.55,139.9 345.68,145.7 345.80,138.9 345.93,138.6 346.05,138.4 346.18,136.3 346.30,142.7 346.43,141.0 346.55,145.2 346.68,138.7 346.80,143.3 346.93,145.1 347.05,140.2 347.18,140.4 347.30,133.2 347.43,146.9 347.55,140.5 347.68,143.0 347.80,139.3 347.93,142.0 348.05,137.3 348.18,143.2 348.30,141.2 348.43,139.7 348.55,142.2 348.68,135.3 348.80,141.4 348.93,139.5 349.05,145.4 349.18,143.3 349.30,140.3 349.43,140.0 349.55,137.8 349.68,146.8 349.80,143.7 349.93,143.3"/>
<polyline stroke="#ff0000" points="19.80,65.4 19.93,61.4 20.05,59.0 20.18,59.3 20.30,59.9 20.43,55.4 20.55,59.9 20.68,58.4 20.80,61.1 20.93,59.7 21.05,59.9 21.18,59.0 21.30,58.1 21.43,59.8 21.55,62.0 21.68,60.2 21.80,63.3 21.93,60.4 22.05,61.0 22.18,64.9 22.30,62.4 22.43,59.9 22.55,60.7 22.68,62.6 22.80,66.1 22.93,60.6 23.05,60.7 23.18,63.9 23.30,59.2 23.43,60.8 23.55,63.8 23.68,63.0 23.80,61.9 23.93,63.4 24.05,64.3 24.18,59.4 24.30,57.7 24.43,62.6 24.55,63.7 24.68,60.9 24.80,59.3 24.93,62.1 25.05,62.0 25.18,65.7 25.30,64.1 25.43,62.7 25.55,65.1 25.68,61.8 25.80,60.1 25.93,63.9 26.05,63.9 26.18,62.0 26.30,60.6 26.43,63.2 26.55,56.4 26.68,64.4 26.80,64.0 26.93,58.7 27.05,63.0 27.18,60.5 27.30,64.9 27.43,57.9 27.55,60.8 27.68,64.9 27.80,66.0 27.93,57.8 28.05,62.0 28.18,64.1 28.30,61.8 28.43,67.4 28.55,60.5 28.68,64.4 28.80,60.9 28.93,67.1 29.05,63.6 29.18,62.7 29.30,59.4 29.43,68.0 29.55,65.7 29.68,65.7 29.80,66.7 29.93,64.8 30.05,62.4 30.18,62.0 30.30,62.1 30.43,67.5 30.55,60.5 30.68,62.7 30.80,63.4 30.93,64.8 31.05,65.8 31.18,61.2 31.30,60.1 31.43,64.4 31.55,67.5 31.68,66.4 31.80,65.1 31.93,63.8 32.05,65.4 32.17,64.1 32.30,66.8 32.42,62.8 32.55,65.1 32.67,64.6 32.80,66.2 32.92,65.5 33.05,68.7 33.17,68.7 33.30,59.9 33.42,64.2 33.55,63.6 33.67,66.5 33.80,59.5 33.92,68.2 34.05,67.9 34.17,62.1 34.30,62.9 34.42,63.4 34.55,65.5 34.67,67.1 34.80,70.6 34.92,65.1 35.05,67.5 35.17,66.0 35.30,70.1 35.42,67.6 35.55,69.2 35.67,63.1 35.80,65.3 35.92,63.8 36.05,69.7 36.17,67.6 36.30,65.2 36.42,64.9 36.55,67.3 36.67,64.4 36.80,63.8 36.92,67.4 37.05,72.4 37.17,65.7 37.30,64.9 37.42,63.4 37.55,63.1 37.67,67.7 37.80,68.6 37.92,66.5 38.05,67.4 38.17,66.9 38.30,67.0 38.42,62.9 38.55,65.6 38.67,67.0 38.80,64.8 38.92,65.6 39.05,64.8 39.17,66.1 39.30,69.1 39.42,66.0 39.55,66.6 39.67,69.1 39.80,68.7 39.92,71.4 40.05,61.9 40.17,69.3 40.30,66.0 40.42,67.5 40.55,69.3 40.67,69.9 40.80,69.8 40.92,67.6 41.05,71.3 41.17,66.6 41.30,66.9 41.42,69.3 41.55,65.9 41.67,72.7 41.80,69.9 41.92,72.8 42.05,67.3 42.17,66.4 42.30,67.8 42.42,69.2 42.55,65.9 42.67,68.4 42.80,67.4 42.92,71.5 43.05,65.8 43.17,70.1 43.30,65.9 43.42,65.1 43.55,65.7 43.67,64.6 43.80,67.9 43.92,70.1 44.05,68.0 44.17,69.1 44.30,71.7 44.42,68.3 44.55,68.1 44.67,66.9 44.80,63.6 44.92,69.5 45.05,63.3 45.17,69.3 45.30,67.7 45.42,70.5 45.55,67.5 45.67,65.7 45.80,68.6 45.92,66.3 46.05,67.3 46.17,67.9 46.30,67.4 46.42,67.3 46.55,65.7 46.67,67.3 46.80,62.5 46.92,67.5 47.05,64.9 47.17,70.7 47.30,71.1 47.42,63.0 47.55,68.3 47.67,67.6 47.80,65.3 47.92,69.3 48.05,66.8 48.17,63.6 48.30,67.3 48.42,67.6 48.55,68.3 48.67,64.9 48.80,69.6 48.92,69.9 49.05,65.2 49.17,66.4 49.30,67.9 49.42,66.7 49.55,72.5 49.67,68.6 49.80,65.6 49.92,66.2 50.05,68.0 50.17,73.9 50.30,67.7 50.42,68.5 50.55,69.5 50.67,68.1 50.80,73.9 50.92,66.9 51.05,70.1 51.17,68.7 51.30,69.9 51.42,65.4 51.55,72.8 51.67,68.1 51.80,68.5 51.92,66.1 52.05,66.6 52.17,69.8 52.30,70.9 52.42,70.3 52.55,71.5 52.67,70.3 52.80,68.6 52.92,70.6 53.05,70.0 53.17,68.3 53.30,70.4 53.42,71.8 53.55,69.2 53.67,67.7 53.80,70.4 53.92,73.4 54.05,68.2 54.17,68.5 54.30,68.4 54.42,71.8 54.55,64.2 54.67,69.7 54.80,71.8 54.92,66.8 55.05,72.5 55.17,70.2 55.30,67.5 55.42,69.4 55.55,65.1 55.67,67.5 55.80,73.5 55.92,66.7 56.05,73.6 56.17,68.8 56.30,71.5 56.42,69.1 56.55,63.4 56.67,67.6 56.80,69.5 56.92,66.2 57.05,65.7 57.17,70.0 57.30,67.5 57.42,64.9 57.55,67.4 57.67,71.3 57.80,68.0 57.92,71.5 58.05,73.0 58.17,69.3 58.30,66.4 58.42,66.0 58.55,69.1 58.67,71.4 58.80,69.9 58.92,70.6 59.05,68.1 59.17,69.9 59.30,68.0 59.42,68.4 59.55,66.0 59.67,65.3 59.80,68.0 59.92,66.4 60.05,66.8 60.17,70.9 60.30,68.9 60.42,71.5 60.55,67.6 60.67,71.1 60.80,70.1 60.92,67.5 61.05,71.9 61.17,67.2 61.30,71.2 61.42,67.6 61.55,72.9 61.67,67.6 61.80,66.2 61.92,73.0 62.05,66.5 62.17,69.7 62.30,72.8 62.42,69.5 62.55,69.0 62.67,69.4 62.80,71.3 62.92,67.1 63.05,70.7 63.17,70.6 63.30,75.0 63.42,68.3 63.55,66.9 63.67,71.0 63.80,68.2 63.92,69.9 64.05,69.5 64.17,72.1 64.30,67.5 64.42,68.9 64.55,66.9 64.67,73.0 64.80,67.4 64.92,67.4 65.05,66.1 65.17,70.6 65.30,69.6 65.42,66.2 65.55,70.8 65.67,69.8 65.80,71.0 65.92,67.5 66.05,73.4 66.17,70.1 66.30,68.8 66.42,67.8 66.55,68.5 66.67,71.2 66.80,68.4 66.92,71.8 67.05,70.5 67.17,72.4 67.30,71.1 67.42,68.9 67.55,64.3 67.67,69.8 67.80,71.0 67.92,69.5 68.05,70.4 68.17,67.9 68.30,68.1 68.42,66.7 68.55,72.4 68.67,69.4 68.80,67.8 68.92,65.7 69.05,68.6 69.17,72.6 69.30,70.2 69.42,67.2 69.55,72.6 69.67,72.6 69.80,71.4 69.92,71.0 70.05,71.9 70.17,70.3 70.30,70.9 70.42,67.0 70.55,72.7 70.67,69.5 70.80,74.0 70.92,63.9 71.05,70.7 71.17,71.4 71.30,68.1 71.42,70.1 71.55,70.8 71.67,70.4 71.80,67.6 71.92,68.6 72.05,71.4 72.17,72.1 72.30,69.2 72.42,69.1 72.55,69.4 72.67,71.5 72.80,66.3 72.92,65.6 73.05,69.2 73.17,66.1 73.30,67.4 73.42,69.1 73.55,70.0 73.67,66.2 73.80,70.8 73.92,64.4 74.05,70.1 74.17,64.9 74.30,65.6 74.42,70.3 74.55,67.7 74.67,66.8 74.80,67.6 74.92,69.8 75.05,68.5 75.17,68.6 75.30,71.2 75.42,66.8 75.55,67.4 75.67,67.3 75.80,71.4 75.92,70.9 76.05,71.6 76.17,68.3 76.30,67.9 76.42,70.4 76.55,67.3 76.67,70.2 76.80,69.8 76.92,66.3 77.05,67.7 77.17,67.5 77.30,71.9 77.42,67.3 77.55,67.4 77.67,61.8 77.80,67.6 77.92,66.8 78.05,64.1 78.17,68.2 78.30,62.5 78.42,65.3 78.55,65.8 78.67,62.3 78.80,66.7 78.92,66.6 79.05,60.7 79.17,60.2 79.30,64.0 79.42,62.0 79.55,58.9 79.67,60.1 79.80,59.8 79.92,58.9 80.05,59.9 80.17,58.1 80.30,59.7 80.42,57.8 80.55,55.5 80.67,54.9 80.80,54.1 80.92,51.8 81.05,47.5 81.17,49.2 81.30,46.7 81.42,47.2 81.55,43.8 81.67,42.8 81.80,41.0 81.92,40.7 82.05,37.7 82.17,35.6 82.30,34.6 82.42,32.3 82.55,31.4 82.67,29.7 82.80,28.5 82.92,28.7 83.05,25.0 83.17,24.1 83.30,22.7 83.42,22.4 83.55,19.5 83.67,19.0 83.80,18.9 83.92,18.8 84.05,17.6 84.17,16.7 84.30,16.0 84.42,17.3 84.55,18.2 84.67,17.2 84.80,17.3 84.92,18.0 85.05,17.2 85.17,18.5 85.30,19.4 85.42,20.8 85.55,21.6 85.67,21.5 85.80,25.1 85.92,26.9 86.05,26.4 86.17,28.4 86.30,29.8 86.42,31.8 86.55,31.1 86.67,35.8 86.80,35.3 86.92,38.6 87.05,39.0 87.17,40.1 87.30,41.9 87.42,44.6 87.55,44.0 87.67,46.0 87.80,47.2 87.92,46.8 88.05,52.6 88.17,52.8 88.30,53.1 88.42,56.3 88.55,53.7 88.67,56.3 88.80,60.7 88.92,60.3 89.05,54.9 89.17,58.0 89.30,63.1 89.42,60.6 89.55,61.8 89.67,64.2 89.80,61.6 89.92,64.5 90.05,66.3 90.17,66.0 90.30,66.3 90.42,64.4 90.55,67.3 90.67,65.4 90.80,69.8 90.92,65.2 91.05,62.1 91.17,66.4 91.30,68.5 91.42,70.3 91.55,70.5 91.67,66.2 91.80,66.3 91.92,71.4 92.05,65.8 92.17,71.2 92.30,68.1 92.42,70.6 92.55,70.5 92.67,70.7 92.80,70.9 92.92,66.5 93.05,69.7 93.17,69.1 93.30,69.8 93.42,72.1 93.55,68.5 93.67,67.4 93.80,67.4 93.92,68.5 94.05,71.1 94.17,67.3 94.30,72.2 94.42,70.1 94.55,68.8 94.67,66.1 94.80,70.0 94.92,71.1 95.05,65.1 95.17,72.4 95.30,73.5 95.42,70.2 95.55,70.6 95.67,75.3 95.80,72.4 95.92,67.1 96.05,69.2 96.17,68.9 96.30,68.9 96.42,63.4 96.55,71.1 96.67,67.6 96.80,69.6 96.92,68.8 97.05,71.3 97.17,68.4 97.30,67.1 97.42,70.4 97.55,72.5 97.67,68.2 97.80,72.4 97.92,69.6 98.05,67.6 98.17,72.7 98.30,66.8 98.42,71.4 98.55,67.6 98.67,69.9 98.80,65.7 98.92,66.7 99.05,71.4 99.17,69.2 99.30,68.8 99.42,67.6 99.55,69.7 99.67,65.1 99.80,65.8 99.92,68.2 100.05,66.5 100.17,66.8 100.30,68.4 100.42,68.3 100.55,68.1 100.67,72.8 100.80,71.2 100.92,71.7 101.05,68.6 101.17,67.5 101.30,65.1 101.42,67.9 101.55,63.6 101.67,67.3 101.80,70.7 101.92,72.9 102.05,71.2 102.17,66.7 102.30,70.1 102.42,66.9 102.55,71.0 102.67,68.6 102.80,71.1 102.92,71.3 103.05,74.8 103.17,69.4 103.30,68.2 103.42,72.4 103.55,73.3 103.67,67.7 103.80,69.3 103.92,65.5 104.05,68.6 104.17,71.3 104.30,68.9 104.42,67.7 104.55,65.7 104.67,70.1 104.80,71.2 104.92,70.7 105.05,69.9 105.17,66.1 105.30,73.7 105.42,69.2 105.55,69.0 105.67,71.2 105.80,64.0 105.92,69.2 106.05,69.0 106.17,70.3 106.30,72.8 106.42,70.6 106.55,64.9 106.67,68.6 106.80,70.0 106.92,69.9 107.05,66.3 107.17,65.4 107.30,70.9 107.42,70.4 107.55,69.5 107.67,65.3 107.80,74.0 107.92,68.7 108.05,74.8 108.17,69.3 108.30,70.2 108.42,66.7 108.55,73.1 108.67,66.5 108.80,70.4 108.92,70.1 109.05,67.1 109.17,72.0 109.30,66.3 109.42,68.1 109.55,69.7 109.67,68.8 109.80,71.0 109.92,72.2 110.05,69.1 110.17,68.5 110.30,68.6 110.42,69.0 110.55,71.9 110.67,69.4 110.80,70.9 110.92,69.7 111.05,67.8 111.17,72.1 111.30,67.4 111.42,70.0 111.55,73.7 111.67,67.2 111.80,69.8 111.92,66.0 112.05,68.7 112.17,66.3 112.30,69.1 112.42,68.7 112.55,70.3 112.67,73.9 112.80,70.7 112.92,71.6 113.05,69.9 113.17,69.4 113.30,67.9 113.42,65.5 113.55,70.2 113.67,74.0 113.80,71.2 113.92,68.7 114.05,74.1 114.17,68.9 114.30,68.4 114.42,66.9 114.55,67.6 114.67,69.3 114.80,74.9 114.92,69.4 115.05,67.3 115.17,68.4 115.30,69.3 115.42,65.6 115.55,70.1 115.67,71.5 115.80,70.6 115.92,71.2 116.05,66.6 116.17,65.5 116.30,72.8 116.42,72.3 116.55,65.9 116.67,70.1 116.80,69.6 116.92,70.9 117.05,70.0 117.17,68.2 117.30,69.9 117.42,69.8 117.55,69.2 117.67,64.8 117.80,67.4 117.92,65.3 118.05,69.8 118.17,70.9 118.30,69.8 118.42,68.2 118.55,69.3 118.67,71.9 118.80,67.3 118.92,71.2 119.05,70.6 119.17,69.5 119.30,72.4 119.42,67.1 119.55,71.1 119.67,66.6 119.80,66.9 119.92,66.2 120.05,69.7 120.17,66.4 120.30,68.7 120.42,65.9 120.55,71.0 120.67,72.8 120.80,68.9 120.92,72.2 121.05,69.6 121.17,73.4 121.30,68.5 121.42,64.5 121.55,71.6 121.67,67.8 121.80,65.7 121.92,66.5 122.05,64.2 122.17,67.5 122.30,65.4 122.42,71.2 122.55,69.2 122.67,63.8 122.80,64.1 122.92,66.2 123.05,63.0 123.17,67.0 123.30,67.0 123.42,65.2 123.55,65.5 123.67,67.7 123.80,69.5 123.92,69.4 124.05,65.9 124.17,67.4 124.30,63.6 124.42,65.7 124.55,62.4 124.67,65.5 124.80,60.9 124.92,61.0 125.05,62.4 125.17,62.9 125.30,58.4 125.42,59.6 125.55,60.2 125.67,59.8 125.80,57.2 125.92,58.2 126.05,56.9 126.17,59.2 126.30,57.1 126.42,53.5 126.55,51.6 126.67,54.8 126.80,56.1 126.92,54.2 127.05,55.0 127.17,52.7 127.30,51.3 127.42,54.5 127.55,53.6 127.67,54.6 127.80,51.6 127.92,54.4 128.05,53.5 128.18,56.2 128.30,54.5 128.43,55.0 128.55,55.7 128.68,59.5 128.80,58.1 128.93,57.4 129.05,57.7 129.18,58.4 129.30,63.9 129.43,58.4 129.55,60.9 129.68,64.6 129.80,66.5 129.93,64.4 130.05,67.1 130.18,67.7 130.30,68.8 130.43,67.3 130.55,71.3 130.68,68.7 130.80,72.1 130.93,66.6 131.05,71.6 131.18,66.9 131.30,66.6 131.43,71.6 131.55,68.7 131.68,72.0 131.80,68.6 131.93,75.1 132.05,71.5 132.18,69.0 132.30,72.3 132.43,74.1 132.55,70.3 132.68,73.5 132.80,77.3 132.93,74.6 133.05,72.6 133.18,71.3 133.30,74.2 133.43,69.2 133.55,71.3 133.68,70.4 133.80,77.4 133.93,73.6 134.05,70.9 134.18,70.5 134.30,74.7 134.43,71.5 134.55,72.2 134.68,73.4 134.80,73.9 134.93,74.0 135.05,74.1 135.18,77.1 135.30,78.1 135.43,69.9 135.55,74.3 135.68,77.1 135.80,72.3 135.93,74.9 136.05,74.7 136.18,74.5 136.30,76.4 136.43,75.8 136.55,71.8 136.68,74.0 136.80,76.2 136.93,76.1 137.05,73.6 137.18,73.7 137.30,74.1 137.43,71.7 137.55,71.3 137.68,78.4 137.80,73.6 137.93,74.8 138.05,72.7 138.18,77.8 138.30,79.0 138.43,74.1 138.55,75.9 138.68,72.8 138.80,79.1 138.93,77.0 139.05,72.6 139.18,77.8 139.30,75.6 139.43,75.8 139.55,75.7 139.68,73.1 139.80,73.4 139.93,76.3 140.05,74.7 140.18,72.4 140.30,79.9 140.43,74.3 140.55,73.4 140.68,73.1 140.80,76.6 140.93,77.3 141.05,75.5 141.18,77.0 141.30,71.1 141.43,73.9 141.55,73.7 141.68,74.9 141.80,76.1 141.93,69.8 142.05,72.7 142.18,75.7 142.30,76.9 142.43,77.0 142.55,75.4 142.68,72.1 142.80,76.7 142.93,72.5 143.05,72.2 143.18,68.9 143.30,77.8 143.43,76.0 143.55,72.5 143.68,74.4 143.80,74.5 143.93,72.0 144.05,74.0 144.18,75.3 144.30,76.1 144.43,77.8 144.55,74.7 144.68,73.5 144.80,75.6 144.93,73.0 145.05,71.5 145.18,77.4 145.30,73.6 145.43,74.8 145.55,76.1 145.68,71.7 145.80,76.0 145.93,75.5 146.05,74.1 146.18,75.3 146.30,72.4 146.43,68.8 146.55,73.5 146.68,71.9 146.80,76.2 146.93,74.7 147.05,72.7 147.18,74.1 147.30,77.2 147.43,76.6 147.55,74.7 147.68,74.8 147.80,73.0 147.93,73.3 148.05,75.0 148.18,73.3 148.30,74.2 148.43,70.7 148.55,69.3 148.68,69.2 148.80,72.2 148.93,76.4 149.05,76.0 149.18,70.6 149.30,69.2 149.43,74.8 149.55,73.9 149.68,69.4 149.80,75.1 149.93,72.9 150.05,75.6 150.18,73.1 150.30,74.3 150.43,72.8 150.55,69.7 150.68,71.3 150.80,70.1 150.93,73.5 151.05,69.1 151.18,67.7 151.30,72.7 151.43,73.6 151.55,74.1 151.68,73.1 151.80,66.9 151.93,68.6 152.05,68.8 152.18,69.8 152.30,64.8 152.43,69.4 152.55,69.8 152.68,66.9 152.80,69.1 152.93,71.2 153.05,68.5 153.18,70.5 153.30,70.2 153.43,68.7 153.55,68.5 153.68,66.7 153.80,70.0 153.93,66.1 154.05,65.5 154.18,68.4 154.30,65.2 154.43,67.5 154.55,68.8 154.68,66.6 154.80,66.6 154.93,68.3 155.05,67.9 155.18,63.1 155.30,63.6 155.43,69.1 155.55,67.2 155.68,62.0 155.80,63.6 155.93,66.6 156.05,64.6 156.18,67.7 156.30,67.0 156.43,68.1 156.55,64.7 156.68,68.6 156.80,71.7 156.93,65.9 157.05,70.7 157.18,70.1 157.30,69.6 157.43,68.2 157.55,66.0 157.68,66.8 157.80,70.7 157.93,71.3 158.05,72.1 158.18,71.7 158.30,71.7 158.43,68.9 158.55,67.3 158.68,70.7 158.80,71.5 158.93,70.7 159.05,67.2 159.18,69.6 159.30,67.5 159.43,71.5 159.55,68.8 159.68,71.0 159.80,72.3 159.93,71.9 160.05,75.0 160.18,69.2 160.30,66.7 160.43,74.3 160.55,75.5 160.68,75.6 160.80,72.9 160.93,73.6 161.05,72.7 161.18,69.3 161.30,71.1 161.43,73.8 161.55,71.2 161.68,77.3 161.80,69.0 161.93,71.7 162.05,75.5 162.18,71.4 162.30,70.1 162.43,69.6 162.55,71.2 162.68,76.7 162.80,74.0 162.93,74.3 163.05,71.8 163.18,75.2 163.30,73.4 163.43,70.9 163.55,72.1 163.68,73.7 163.80,76.1 163.93,73.1 164.05,74.5 164.18,78.3 164.30,71.4 164.43,70.3 164.55,75.8 164.68,74.5 164.80,73.2 164.93,74.1 165.05,72.6 165.18,74.7 165.30,72.7 165.43,75.5 165.55,70.6 165.68,71.5 165.80,73.8 165.93,72.4 166.05,75.3 166.18,73.5 166.30,72.3 166.43,74.2 166.55,72.3 166.68,69.8 166.80,70.8 166.93,71.7 167.05,72.5 167.18,74.0 167.30,76.0 167.43,75.1 167.55,78.2 167.68,76.9 167.80,73.3 167.93,77.9 168.05,76.7 168.18,72.7 168.30,74.6 168.43,76.5 168.55,74.4 168.68,76.4 168.80,74.8 168.93,75.6 169.05,73.0 169.18,74.8 169.30,72.9 169.43,75.5 169.55,69.6 169.68,74.7 169.80,77.0 169.93,75.3 170.05,73.8 170.18,75.2 170.30,71.8 170.43,71.8 170.55,73.0 170.68,73.6 170.80,76.4 170.93,71.8 171.05,76.5 171.18,70.1 171.30,72.1 171.43,74.0 171.55,77.0 171.68,72.5 171.80,68.7 171.93,75.2 172.05,74.0 172.18,71.4 172.30,71.5 172.43,72.4 172.55,74.4 172.68,75.9 172.80,70.5 172.93,79.9 173.05,74.1 173.18,73.3 173.30,75.9 173.43,74.6 173.55,80.1 173.68,77.0 173.80,73.4 173.93,73.4 174.05,73.1 174.18,73.5 174.30,76.1 174.43,72.8 174.55,78.4 174.68,74.2 174.80,74.1 174.93,76.8 175.05,69.5 175.18,72.1 175.30,76.0 175.43,74.5 175.55,74.5 175.68,75.5 175.80,73.0 175.93,74.1 176.05,71.2 176.18,69.9 176.30,77.8 176.43,72.3 176.55,72.8 176.68,78.1 176.80,77.3 176.93,73.3 177.05,73.3 177.18,74.5 177.30,72.3 177.43,76.1 177.55,75.1 177.68,75.1 177.80,76.6 177.93,76.6 178.05,79.4 178.18,78.6 178.30,70.5 178.43,77.1 178.55,72.0 178.68,71.3 178.80,76.6 178.93,73.1 179.05,74.1 179.18,77.6 179.30,73.3 179.43,72.7 179.55,75.8 179.68,78.0 179.80,76.3 179.93,71.1 180.05,73.4 180.18,74.6 180.30,79.8 180.43,77.2 180.55,77.1 180.68,78.0 180.80,74.3 180.93,76.2 181.05,76.3 181.18,72.6 181.30,75.0 181.43,76.5 181.55,72.4 181.68,77.1 181.80,77.0 181.93,77.7 182.05,73.2 182.18,75.4 182.30,78.7 182.43,77.1 182.55,73.1 182.68,75.7 182.80,78.7 182.93,74.9 183.05,76.1 183.18,75.1 183.30,74.9 183.43,72.6 183.55,73.5 183.68,78.9 183.80,74.8 183.93,72.2 184.05,72.9 184.18,75.2 184.30,77.1 184.43,73.3 184.55,77.0 184.68,74.0 184.80,76.1 184.93,76.5 185.05,76.7 185.18,74.1 185.30,74.8 185.43,76.5 185.55,72.0 185.68,75.7 185.80,76.5 185.93,77.8 186.05,75.1 186.18,74.8 186.30,75.6 186.43,73.4 186.55,74.7 186.68,76.3 186.80,76.0 186.93,72.6 187.05,74.4 187.18,70.0 187.30,77.3 187.43,73.9 187.55,75.9 187.68,72.5 187.80,75.1 187.93,76.4 188.05,77.7 188.18,71.9 188.30,77.4 188.43,74.9 188.55,73.4 188.68,76.5 188.80,74.6 188.93,74.6 189.05,73.5 189.18,75.9 189.30,75.4 189.43,74.9 189.55,72.9 189.68,74.1 189.80,76.3 189.93,78.5 190.05,75.3 190.18,78.9 190.30,75.3 190.43,72.6 190.55,76.9 190.68,72.9 190.80,76.3 190.93,78.0 191.05,74.5 191.18,75.1 191.30,81.5 191.43,75.9 191.55,76.0 191.68,77.2 191.80,75.0 191.93,75.1 192.05,76.2 192.18,69.3 192.30,78.8 192.43,72.6 192.55,72.6 192.68,76.6 192.80,75.3 192.93,72.1 193.05,75.8 193.18,72.4 193.30,73.5 193.43,71.5 193.55,73.2 193.68,76.2 193.80,75.5 193.93,76.0 194.05,77.5 194.18,75.1 194.30,73.5 194.43,74.4 194.55,79.2 194.68,75.2 194.80,75.9 194.93,74.8 195.05,75.7 195.18,76.1 195.30,75.0 195.43,74.6 195.55,73.0 195.68,72.8 195.80,75.9 195.93,76.7 196.05,77.1 196.18,74.9 196.30,72.7 196.43,76.2 196.55,76.2 196.68,70.9 196.80,76.5 196.93,75.9 197.05,78.5 197.18,71.6 197.30,71.1 197.43,76.1 197.55,69.8 197.68,72.3 197.80,71.3 197.93,71.5 198.05,69.2 198.18,73.2 198.30,76.1 198.43,74.7 198.55,74.6 198.68,72.6 198.80,76.9 198.93,74.6 199.05,75.8 199.18,69.5 199.30,73.9 199.43,70.3 199.55,73.8 199.68,73.4 199.80,70.2 199.93,73.2 200.05,75.5 200.18,73.9 200.30,74.1 200.43,70.6 200.55,71.0 200.68,70.0 200.80,72.9 200.93,75.4 201.05,73.6 201.18,72.6 201.30,70.0 201.43,73.7 201.55,72.1 201.68,68.2 201.80,68.6 201.93,71.9 202.05,70.7 202.18,76.8 202.30,73.0 202.43,70.5 202.55,71.8 202.68,76.9 202.80,70.8 202.93,75.0 203.05,74.3 203.18,76.8 203.30,74.7 203.43,72.5 203.55,74.8 203.68,73.8 203.80,76.0 203.93,73.6 204.05,78.6 204.18,73.6 204.30,75.0 204.43,72.4 204.55,74.4 204.68,74.2 204.80,74.6 204.93,76.5 205.05,73.0 205.18,72.3 205.30,77.1 205.43,73.8 205.55,72.9 205.68,77.4 205.80,76.5 205.93,73.7 206.05,76.6 206.18,76.7 206.30,73.4 206.43,78.6 206.55,72.8 206.68,74.2 206.80,75.1 206.93,74.8 207.05,76.8 207.18,77.4 207.30,74.7 207.43,78.3 207.55,73.2 207.68,74.4 207.80,79.2 207.93,75.1 208.05,77.6 208.18,73.8 208.30,74.3 208.43,74.7 208.55,75.3 208.68,74.1 208.80,75.0 208.93,76.6 209.05,77.9 209.18,75.2 209.30,76.5 209.43,77.2 209.55,72.2 209.68,71.0 209.80,78.9 209.93,78.2 210.05,75.0 210.18,75.8 210.30,72.6 210.43,71.5 210.55,75.7 210.68,71.2 210.80,77.2 210.93,73.2 211.05,75.6 211.18,79.7 211.30,79.6 211.43,74.2 211.55,77.5 211.68,72.3 211.80,73.4 211.93,75.8 212.05,78.3 212.18,73.4 212.30,76.2 212.43,75.1 212.55,71.7 212.68,74.5 212.80,78.5 212.93,74.6 213.05,76.0 213.18,76.9 213.30,73.0 213.43,77.8 213.55,78.5 213.68,78.8 213.80,78.0 213.93,73.6 214.05,73.3 214.18,72.8 214.30,72.5 214.43,72.8 214.55,77.2 214.68,78.4 214.80,73.1 214.93,76.7 215.05,71.6 215.18,73.9 215.30,72.2 215.43,70.6 215.55,74.8 215.68,74.9 215.80,73.7 215.93,73.4 216.05,72.2 216.18,74.3 216.30,73.2 216.43,75.3 216.55,71.6 216.68,75.2 216.80,75.9 216.93,77.7 217.05,77.2 217.18,75.1 217.30,72.9 217.43,70.0 217.55,74.6 217.68,78.1 217.80,78.7 217.93,72.7 218.05,73.7 218.18,72.0 218.30,75.0 218.43,74.7 218.55,73.3 218.68,74.5 218.80,70.6 218.93,72.1 219.05,72.3 219.18,76.8 219.30,70.5 219.43,74.0 219.55,76.5 219.68,74.4 219.80,76.5 219.93,72.9 220.05,75.6 220.18,76.8 220.30,80.1 220.43,76.4 220.55,78.1 220.68,74.6 220.80,74.8 220.93,78.5 221.05,76.1 221.18,78.2 221.30,76.4 221.43,80.0 221.55,80.6 221.68,72.6 221.80,79.4 221.93,75.8 222.05,75.9 222.18,74.5 222.30,76.6 222.43,72.0 222.55,73.0 222.68,72.9 222.80,75.6 222.93,77.2 223.05,76.7 223.18,75.8 223.30,73.4 223.43,70.5 223.55,75.9 223.68,75.3 223.80,75.8 223.93,78.5 224.05,74.5 224.18,74.5 224.30,69.2 224.43,76.4 224.55,74.9 224.68,73.2 224.80,76.0 224.93,72.5 225.05,73.7 225.18,80.0 225.30,77.0 225.43,77.4 225.55,77.0 225.68,76.7 225.80,75.6 225.93,80.9 226.05,75.0 226.18,77.0 226.30,74.6 226.43,74.3 226.55,69.1 226.68,70.4 226.80,79.1 226.93,79.0 227.05,74.2 227.18,75.2 227.30,76.8 227.43,72.8 227.55,79.7 227.68,72.7 227.80,73.5 227.93,79.1 228.05,75.5 228.18,79.4 228.30,72.8 228.43,76.2 228.55,75.5 228.68,75.9 228.80,80.5 228.93,81.0 229.05,78.8 229.18,74.4 229.30,77.6 229.43,78.7 229.55,76.8 229.68,76.8 229.80,76.6 229.93,73.1 230.05,76.0 230.18,79.4 230.30,72.9 230.43,75.5 230.55,77.4 230.68,71.9 230.80,74.9 230.93,71.1 231.05,73.7 231.18,71.7 231.30,73.0 231.43,73.9 231.55,74.4 231.68,74.6 231.80,69.1 231.93,78.9 232.05,74.3 232.18,72.2 232.30,73.3 232.43,75.6 232.55,72.3 232.68,73.7 232.80,73.5 232.93,75.9 233.05,72.7 233.18,75.6 233.30,75.2 233.43,74.0 233.55,77.3 233.68,74.3 233.80,71.3 233.93,74.8 234.05,74.3 234.18,73.9 234.30,74.5 234.43,79.5 234.55,74.4 234.68,74.9 234.80,73.2 234.93,76.8 235.05,73.5 235.18,71.7 235.30,70.7 235.43,74.9 235.55,75.4 235.68,69.8 235.80,71.9 235.93,75.1 236.05,76.0 236.18,70.5 236.30,72.7 236.43,75.7 236.55,72.4 236.68,72.7 236.80,72.5 236.93,70.7 237.05,74.0 237.18,74.7 237.30,70.7 237.43,74.3 237.55,76.8 237.68,74.7 237.80,76.6 237.93,73.1 238.05,77.8 238.18,72.7 238.30,79.2 238.43,73.7 238.55,73.1 238.68,72.8 238.80,74.0 238.93,73.9 239.05,73.5 239.18,74.5 239.30,77.0 239.43,77.6 239.55,74.7 239.68,78.6 239.80,73.2 239.93,73.2 240.05,73.0 240.18,77.3 240.30,72.1 240.43,72.5 240.55,79.2 240.68,80.3 240.80,79.5 240.93,72.5 241.05,76.3 241.18,78.4 241.30,76.6 241.43,72.4 241.55,75.6 241.68,72.3 241.80,73.4 241.93,81.9 242.05,78.3 242.18,73.0 242.30,72.9 242.43,77.8 242.55,75.2 242.68,78.2 242.80,75.1 242.93,76.3 243.05,77.4 243.18,74.2 243.30,72.0 243.43,73.9 243.55,75.1 243.68,76.4 243.80,76.8 243.93,76.8 244.05,78.2 244.18,74.7 244.30,80.5 244.43,82.0 244.55,77.9 244.68,77.5 244.80,80.2 244.93,78.7 245.05,77.6 245.18,76.7 245.30,75.3 245.43,74.2 245.55,78.8 245.68,80.1 245.80,74.5 245.93,77.0 246.05,77.8 246.18,76.2 246.30,75.3 246.43,76.3 246.55,72.3 246.68,77.1 246.80,76.6 246.93,82.6 247.05,79.7 247.18,76.5 247.30,77.3 247.43,81.7 247.55,81.4 247.68,77.9 247.80,77.1 247.93,73.8 248.05,76.6 248.18,77.1 248.30,75.7 248.43,81.8 248.55,72.8 248.68,77.2 248.80,78.6 248.93,78.7 249.05,81.8 249.18,74.1 249.30,75.7 249.43,77.9 249.55,78.0 249.68,76.7 249.80,75.8 249.93,80.4 250.05,75.1 250.18,76.3 250.30,81.3 250.43,82.1 250.55,80.0 250.68,75.6 250.80,75.7 250.93,75.6 251.05,75.0 251.18,76.8 251.30,81.0 251.43,78.4 251.55,76.0 251.68,76.0 251.80,75.0 251.93,81.0 252.05,72.9 252.18,78.6 252.30,74.4 252.43,75.3 252.55,74.3 252.68,80.4 252.80,77.8 252.93,75.5 253.05,75.3 253.18,79.5 253.30,79.5 253.43,77.4 253.55,73.1 253.68,81.7 253.80,79.6 253.93,79.1 254.05,76.7 254.18,79.8 254.30,76.8 254.43,78.3 254.55,77.7 254.68,81.4 254.80,77.1 254.93,77.4 255.05,81.0 255.18,78.8 255.30,78.2 255.43,77.7 255.55,80.7 255.68,76.7 255.80,79.5 255.93,83.4 256.05,79.4 256.18,76.4 256.30,75.4 256.43,78.8 256.55,75.4 256.68,74.5 256.80,76.6 256.93,75.7 257.05,80.7 257.18,74.9 257.30,82.5 257.43,76.6 257.55,78.8 257.68,80.2 257.80,79.1 257.93,80.4 258.05,76.1 258.18,72.9 258.30,78.1 258.43,74.4 258.55,77.2 258.68,81.0 258.80,78.2 258.93,77.2 259.05,75.9 259.18,78.0 259.30,78.3 259.43,74.8 259.55,79.5 259.68,76.1 259.80,79.3 259.93,77.7 260.05,81.3 260.18,80.9 260.30,78.8 260.43,78.5 260.55,79.9 260.68,82.3 260.80,81.5 260.93,79.2 261.05,79.6 261.18,82.8 261.30,74.8 261.43,80.2 261.55,76.6 261.68,82.3 261.80,77.6 261.93,78.6 262.05,76.2 262.18,78.9 262.30,80.9 262.43,83.1 262.55,75.8 262.68,77.8 262.80,81.3 262.93,78.9 263.05,80.3 263.18,83.0 263.30,79.4 263.43,75.4 263.55,81.9 263.68,77.4 263.80,76.4 263.93,80.3 264.05,80.0 264.18,77.8 264.30,78.8 264.43,75.6 264.55,75.4 264.68,81.2 264.80,82.3 264.93,80.1 265.05,79.9 265.18,78.0 265.30,78.7 265.43,76.7 265.55,83.4 265.68,77.6 265.80,80.0 265.93,79.0 266.05,75.5 266.18,83.8 266.30,78.1 266.43,77.1 266.55,79.3 266.68,76.8 266.80,79.1 266.93,76.6 267.05,80.4 267.18,79.1 267.30,75.6 267.43,81.6 267.55,79.5 267.68,76.2 267.80,79.9 267.93,80.1 268.05,83.7 268.18,76.8 268.30,81.2 268.43,78.8 268.55,80.6 268.68,78.4 268.80,78.9 268.93,80.3 269.05,76.0 269.18,73.8 269.30,79.0 269.43,77.9 269.55,79.2 269.68,80.6 269.80,78.5 269.93,82.0 270.05,78.9 270.18,79.3 270.30,81.1 270.43,80.5 270.55,78.8 270.68,79.4 270.80,77.2 270.93,77.5 271.05,79.3 271.18,81.1 271.30,78.0 271.43,81.2 271.55,83.9 271.68,84.5 271.80,79.2 271.93,81.7 272.05,80.6 272.18,81.1 272.30,81.2 272.43,80.4 272.55,81.2 272.68,79.6 272.80,78.5 272.93,79.8 273.05,80.4 273.18,82.2 273.30,80.1 273.43,81.0 273.55,82.7 273.68,76.8 273.80,78.5 273.93,80.5 274.05,79.2 274.18,76.6 274.30,81.6 274.43,79.0 274.55,76.6 274.68,83.9 274.80,75.9 274.93,79.1 275.05,77.4 275.18,79.4 275.30,80.5 275.43,77.1 275.55,78.9 275.68,78.8 275.80,76.6 275.93,82.0 276.05,79.5 276.18,78.4 276.30,77.4 276.43,78.3 276.55,79.5 276.68,78.0 276.80,82.2 276.93,73.7 277.05,78.5 277.18,74.5 277.30,78.9 277.43,77.5 277.55,80.6 277.68,80.1 277.80,82.4 277.93,81.4 278.05,82.3 278.18,80.4 278.30,81.8 278.43,80.4 278.55,77.6 278.68,76.0 278.80,76.1 278.93,80.3 279.05,73.1 279.18,79.6 279.30,77.2 279.43,81.0 279.55,79.6 279.68,77.2 279.80,79.1 279.93,73.4 280.05,79.8 280.18,80.3 280.30,74.5 280.43,81.3 280.55,78.8 280.68,79.6 280.80,75.6 280.93,80.6 281.05,80.6 281.18,79.1 281.30,76.7 281.43,81.0 281.55,82.3 281.68,80.1 281.80,81.7 281.93,77.7 282.05,79.5 282.18,80.1 282.30,79.5 282.43,80.2 282.55,77.8 282.68,81.3 282.80,76.5 282.93,80.1 283.05,81.2 283.18,78.0 283.30,78.4 283.43,76.9 283.55,79.6 283.68,77.6 283.80,83.6 283.93,80.9 284.05,78.7 284.18,75.7 284.30,84.4 284.43,82.5 284.55,80.5 284.68,79.8 284.80,79.7 284.93,78.1 285.05,84.0 285.18,79.8 285.30,75.7 285.43,77.7 285.55,72.9 285.68,81.0 285.80,81.2 285.93,83.7 286.05,84.6 286.18,77.4 286.30,80.4 286.43,81.8 286.55,81.3 286.68,78.0 286.80,81.3 286.93,80.6 287.05,82.7 287.18,79.2 287.30,78.7 287.43,78.0 287.55,78.4 287.68,77.4 287.80,78.5 287.93,80.6 288.05,80.5 288.18,82.6 288.30,82.0 288.43,80.9 288.55,76.4 288.68,80.7 288.80,82.2 288.93,76.0 289.05,76.5 289.18,76.9 289.30,76.7 289.43,78.5 289.55,76.9 289.68,80.2 289.80,76.2 289.93,78.9 290.05,78.0 290.18,76.8 290.30,81.8 290.43,79.3 290.55,80.6 290.68,78.4 290.80,81.0 290.93,80.8 291.05,78.9 291.18,74.8 291.30,81.3 291.43,81.0 291.55,79.7 291.68,79.9 291.80,79.6 291.93,79.7 292.05,76.7 292.18,79.1 292.30,80.1 292.43,77.7 292.55,76.8 292.68,83.9 292.80,80.8 292.93,78.5 293.05,78.0 293.18,75.7 293.30,78.7 293.43,82.5 293.55,74.1 293.68,77.5 293.80,84.1 293.93,81.0 294.05,80.3 294.18,82.3 294.30,79.0 294.43,78.8 294.55,81.1 294.68,81.4 294.80,76.6 294.93,83.1 295.05,74.9 295.18,77.6 295.30,78.0 295.43,80.9 295.55,76.8 295.68,78.5 295.80,77.5 295.93,78.3 296.05,81.0 296.18,83.7 296.30,81.5 296.43,83.2 296.55,78.1 296.68,83.0 296.80,80.7 296.93,82.8 297.05,78.3 297.18,78.7 297.30,82.7 297.43,80.9 297.55,79.6 297.68,77.6 297.80,79.1 297.93,80.5 298.05,81.1 298.18,77.9 298.30,78.5 298.43,80.4 298.55,76.5 298.68,81.6 298.80,79.3 298.93,78.9 299.05,73.2 299.18,75.3 299.30,76.6 299.43,77.8 299.55,76.5 299.68,80.1 299.80,79.5 299.93,78.5 300.05,74.1 300.18,82.7 300.30,78.5 300.43,80.7 300.55,77.5 300.68,79.2 300.80,81.0 300.93,79.8 301.05,81.6 301.18,78.8 301.30,84.2 301.43,74.5 301.55,77.9 301.68,81.7 301.80,78.6 301.93,78.2 302.05,74.8 302.18,82.3 302.30,74.5 302.43,80.6 302.55,79.8 302.68,81.5 302.80,83.0 302.93,77.6 303.05,77.3 303.18,78.5 303.30,75.0 303.43,81.4 303.55,78.3 303.68,79.7 303.80,76.5 303.93,79.4 304.05,77.8 304.18,79.1 304.30,76.6 304.43,81.9 304.55,77.7 304.68,81.0 304.80,78.6 304.93,77.1 305.05,85.6 305.18,79.2 305.30,76.0 305.43,77.8 305.55,80.3 305.68,78.8 305.80,82.5 305.93,82.0 306.05,77.4 306.18,79.5 306.30,81.0 306.43,78.4 306.55,78.3 306.68,81.6 306.80,80.6 306.93,75.9 307.05,78.1 307.18,78.4 307.30,79.2 307.43,77.7 307.55,82.8 307.68,77.1 307.80,76.8 307.93,80.0 308.05,73.9 308.18,76.9 308.30,81.1 308.43,76.2 308.55,77.4 308.68,82.2 308.80,80.7 308.93,79.7 309.05,80.2 309.18,77.9 309.30,80.3 309.43,79.1 309.55,85.8 309.68,80.9 309.80,78.8 309.93,79.5 310.05,79.8 310.18,76.2 310.30,77.6 310.43,83.5 310.55,76.1 310.68,78.2 310.80,82.2 310.93,83.5 311.05,77.1 311.18,83.4 311.30,78.8 311.43,83.9 311.55,81.0 311.68,79.0 311.80,81.6 311.93,81.2 312.05,77.8 312.18,85.1 312.30,78.9 312.43,82.7 312.55,78.6 312.68,75.2 312.80,77.0 312.93,79.6 313.05,81.5 313.18,84.2 313.30,80.0 313.43,79.1 313.55,76.8 313.68,79.7 313.80,80.6 313.93,74.3 314.05,83.1 314.18,82.7 314.30,85.6 314.43,77.6 314.55,80.0 314.68,79.9 314.80,76.6 314.93,77.8 315.05,77.4 315.18,81.2 315.30,81.0 315.43,83.3 315.55,78.9 315.68,76.4 315.80,81.0 315.93,80.9 316.05,81.6 316.18,83.1 316.30,78.5 316.43,82.0 316.55,77.5 316.68,80.4 316.80,81.7 316.93,79.7 317.05,80.5 317.18,76.5 317.30,78.4 317.43,80.4 317.55,77.0 317.68,77.9 317.80,86.1 317.93,80.7 318.05,78.0 318.18,77.5 318.30,83.5 318.43,79.1 318.55,81.5 318.68,78.5 318.80,81.2 318.93,77.3 319.05,79.8 319.18,80.0 319.30,79.9 319.43,80.2 319.55,80.0 319.68,82.7 319.80,79.2 319.93,78.4 320.05,79.2 320.18,79.1 320.30,76.1 320.43,75.1 320.55,76.5 320.68,80.6 320.80,78.2 320.93,78.8 321.05,82.7 321.18,79.4 321.30,78.3 321.43,83.3 321.55,77.9 321.68,83.0 321.80,81.4 321.93,83.3 322.05,78.1 322.18,82.1 322.30,75.4 322.43,79.5 322.55,82.6 322.68,81.6 322.80,75.3 322.93,81.6 323.05,81.0 323.18,79.7 323.30,78.1 323.43,79.2 323.55,78.4 323.68,82.3 323.80,81.1 323.93,82.6 324.05,81.6 324.18,76.7 324.30,80.2 324.43,85.3 324.55,77.1 324.68,80.6 324.80,77.9 324.93,77.7 325.05,80.4 325.18,82.2 325.30,81.8 325.43,81.1 325.55,82.3 325.68,75.8 325.80,81.9 325.93,80.9 326.05,79.4 326.18,79.9 326.30,77.8 326.43,82.8 326.55,78.0 326.68,76.2 326.80,79.9 326.93,78.5 327.05,79.7 327.18,83.7 327.30,79.6 327.43,80.2 327.55,85.6 327.68,76.4 327.80,80.8 327.93,82.9 328.05,83.7 328.18,85.6 328.30,78.3 328.43,81.5 328.55,79.7 328.68,78.8 328.80,78.1 328.93,76.3 329.05,80.8 329.18,81.8 329.30,77.3 329.43,81.9 329.55,78.6 329.68,77.4 329.80,82.7 329.93,81.8 330.05,79.2 330.18,79.0 330.30,76.7 330.43,81.3 330.55,79.8 330.68,81.3 330.80,80.4 330.93,76.5 331.05,76.1 331.18,81.1 331.30,75.8 331.43,80.7 331.55,82.3 331.68,76.8 331.80,81.7 331.93,80.2 332.05,81.4 332.18,78.5 332.30,80.0 332.43,81.2 332.55,84.7 332.68,82.0 332.80,81.4 332.93,76.9 333.05,81.0 333.18,78.4 333.30,80.0 333.43,80.8 333.55,82.6 333.68,81.7 333.80,80.7 333.93,80.1 334.05,83.6 334.18,78.0 334.30,80.3 334.43,83.7 334.55,79.7 334.68,82.3 334.80,82.5 334.93,85.2 335.05,83.1 335.18,76.1 335.30,80.2 335.43,81.0 335.55,82.3 335.68,81.2 335.80,85.0 335.93,83.0 336.05,77.2 336.18,78.6 336.30,75.0 336.43,84.5 336.55,79.9 336.68,79.8 336.80,76.2 336.93,79.0 337.05,81.2 337.18,79.1 337.30,79.1 337.43,78.5 337.55,85.0 337.68,78.6 337.80,76.3 337.93,78.7 338.05,79.1 338.18,79.7 338.30,79.3 338.43,77.1 338.55,79.4 338.68,80.9 338.80,76.4 338.93,84.9 339.05,84.2 339.18,75.3 339.30,79.0 339.43,82.5 339.55,83.3 339.68,84.4 339.80,75.2 339.93,77.1 340.05,78.6 340.18,81.3 340.30,77.2 340.43,81.0 340.55,81.1 340.68,81.8 340.80,76.7 340.93,80.5 341.05,80.2 341.18,78.9 341.30,83.3 341.43,79.3 341.55,83.7 341.68,78.5 341.80,84.4 341.93,84.2 342.05,78.0 342.18,80.9 342.30,80.9 342.43,77.6 342.55,82.1 342.68,81.6 342.80,77.9 342.93,80.4 343.05,82.4 343.18,79.8 343.30,78.4 343.43,84.3 343.55,77.7 343.68,81.1 343.80,83.1 343.93,82.2 344.05,75.6 344.18,79.4 344.30,79.9 344.43,79.7 344.55,81.9 344.68,81.7 344.80,80.6 344.93,81.0 345.05,82.9 345.18,83.5 345.30,75.5 345.43,85.9 345.55,79.0 345.68,82.4 345.80,76.2 345.93,79.1 346.05,77.2 346.18,83.2 346.30,82.7 346.43,80.4 346.55,80.0 346.68,81.4 346.80,78.0 346.93,78.9 347.05,78.5 347.18,82.5 347.30,80.5 347.43,77.2 347.55,81.3 347.68,81.8 347.80,84.0 347.93,79.0 348.05,81.5 348.18,85.7 348.30,79.6 348.43,79.5 348.55,81.7 348.68,79.2 348.80,80.4 348.93,79.2 349.05,78.4 349.18,82.7 349.30,79.5 349.43,77.9 349.55,79.7 349.68,80.1 349.80,81.2 349.93,82.8"/>
</g>
<g fill="#ff0000">
<circle cx="84.6" cy="12.6" r="2.1"/>
<circle cx="127.7" cy="46.7" r="2.1"/>
<circle cx="155.7" cy="59.8" r="2.1"/>
<circle cx="200.9" cy="62.9" r="2.1"/>
<circle cx="236.3" cy="63.1" r="2.1"/>
<circle cx="260.2" cy="69.6" r="2.1"/>
<circle cx="272.5" cy="69.6" r="2.1"/>
<circle cx="292.7" cy="69.8" r="2.1"/>
</g>
<g fill="none" stroke="#3c9f3c" stroke-width="1.1">
<path d="M76.6 164.4L79.5 167.3L76.6 170.2L73.7 167.3Z"/>
<path d="M93.9 168.6L96.8 171.5L93.9 174.4L91.0 171.5Z"/>
<path d="M114.2 168.7L117.1 171.6L114.2 174.5L111.3 171.6Z"/>
<path d="M202.0 173.5L204.9 176.4L202.0 179.3L199.1 176.4Z"/>
</g>
<g font-size="11">
<text x="24.2" y="83.9" fill="#ff0000" stroke="#ff0000" stroke-width="0.1">FeCoO<tspan font-size="6.3" dx="-2.0" dy="3.4">x</tspan><tspan dx="-0.9" dy="-3.4">/TiO</tspan><tspan font-size="6.3" dy="3.4">2</tspan></text>
<text x="23.0" y="147.0" fill="#1a1aff" stroke="#1a1aff" stroke-width="0.1">FeCeO<tspan font-size="6.3" dx="-2.0" dy="3.4">x</tspan><tspan dx="-0.9" dy="-3.4">/TiO</tspan><tspan font-size="6.3" dy="3.4">2</tspan></text>
<text x="22.3" y="199.8" fill="#1f991f" stroke="#1f991f" stroke-width="0.1">FeMnO<tspan font-size="6.3" dx="-2.0" dy="3.4">x</tspan><tspan dx="-0.9" dy="-3.4">/TiO</tspan><tspan font-size="6.3" dy="3.4">2</tspan></text>
</g>
<g font-size="11">
<circle cx="265.9" cy="13.2" r="2.1" fill="#ff0000"/>
<text x="272.6" y="16.7" fill="#ff0000" stroke="#ff0000" stroke-width="0.1">TiO<tspan font-size="6.3" dy="3.1">2</tspan></text>
<path d="M307.7 10.4L310.6 13.3L307.7 16.2L304.8 13.3Z" fill="none" stroke="#3c9f3c" stroke-width="1.1"/>
<text x="314.2" y="16.7" fill="#1f991f" stroke="#1f991f" stroke-width="0.1">Mn<tspan font-size="6.3" dy="3.1">2</tspan><tspan dy="-3.1">O</tspan><tspan font-size="6.3" dy="3.1">3</tspan></text>
</g>
<g stroke="#222" stroke-width="1.1" fill="none">
<rect x="19.6" y="1.5" width="330.8" height="215.9"/>
<line x1="40.27" y1="217.4" x2="40.27" y2="215.4"/>
<line x1="60.95" y1="217.4" x2="60.95" y2="213.4"/>
<line x1="81.62" y1="217.4" x2="81.62" y2="215.4"/>
<line x1="102.30" y1="217.4" x2="102.30" y2="213.4"/>
<line x1="122.97" y1="217.4" x2="122.97" y2="215.4"/>
<line x1="143.65" y1="217.4" x2="143.65" y2="213.4"/>
<line x1="164.32" y1="217.4" x2="164.32" y2="215.4"/>
<line x1="185.00" y1="217.4" x2="185.00" y2="213.4"/>
<line x1="205.67" y1="217.4" x2="205.67" y2="215.4"/>
<line x1="226.35" y1="217.4" x2="226.35" y2="213.4"/>
<line x1="247.02" y1="217.4" x2="247.02" y2="215.4"/>
<line x1="267.70" y1="217.4" x2="267.70" y2="213.4"/>
<line x1="288.38" y1="217.4" x2="288.38" y2="215.4"/>
<line x1="309.05" y1="217.4" x2="309.05" y2="213.4"/>
<line x1="329.72" y1="217.4" x2="329.72" y2="215.4"/>
</g>
<g font-size="12" fill="#000" stroke="#000" stroke-width="0.1">
<text x="19.60" y="230.4" text-anchor="middle">10</text>
<text x="60.95" y="230.4" text-anchor="middle">20</text>
<text x="102.30" y="230.4" text-anchor="middle">30</text>
<text x="143.65" y="230.4" text-anchor="middle">40</text>
<text x="185.00" y="230.4" text-anchor="middle">50</text>
<text x="226.35" y="230.4" text-anchor="middle">60</text>
<text x="267.70" y="230.4" text-anchor="middle">70</text>
<text x="309.05" y="230.4" text-anchor="middle">80</text>
<text x="350.40" y="230.4" text-anchor="middle">90</text>
</g>
<text y="246.4" font-size="13.5" fill="#000" stroke="#000" stroke-width="0.15"><tspan x="145.8">2</tspan><tspan x="153.5" font-style="italic" font-size="15">θ</tspan><tspan x="162.4">(degree)</tspan></text>
<text transform="translate(10.7,158.1) rotate(-90)" font-size="13.5" fill="#000" stroke="#000" stroke-width="0.05">Intensity (a.u.)</text>
</svg>
</body></html>
